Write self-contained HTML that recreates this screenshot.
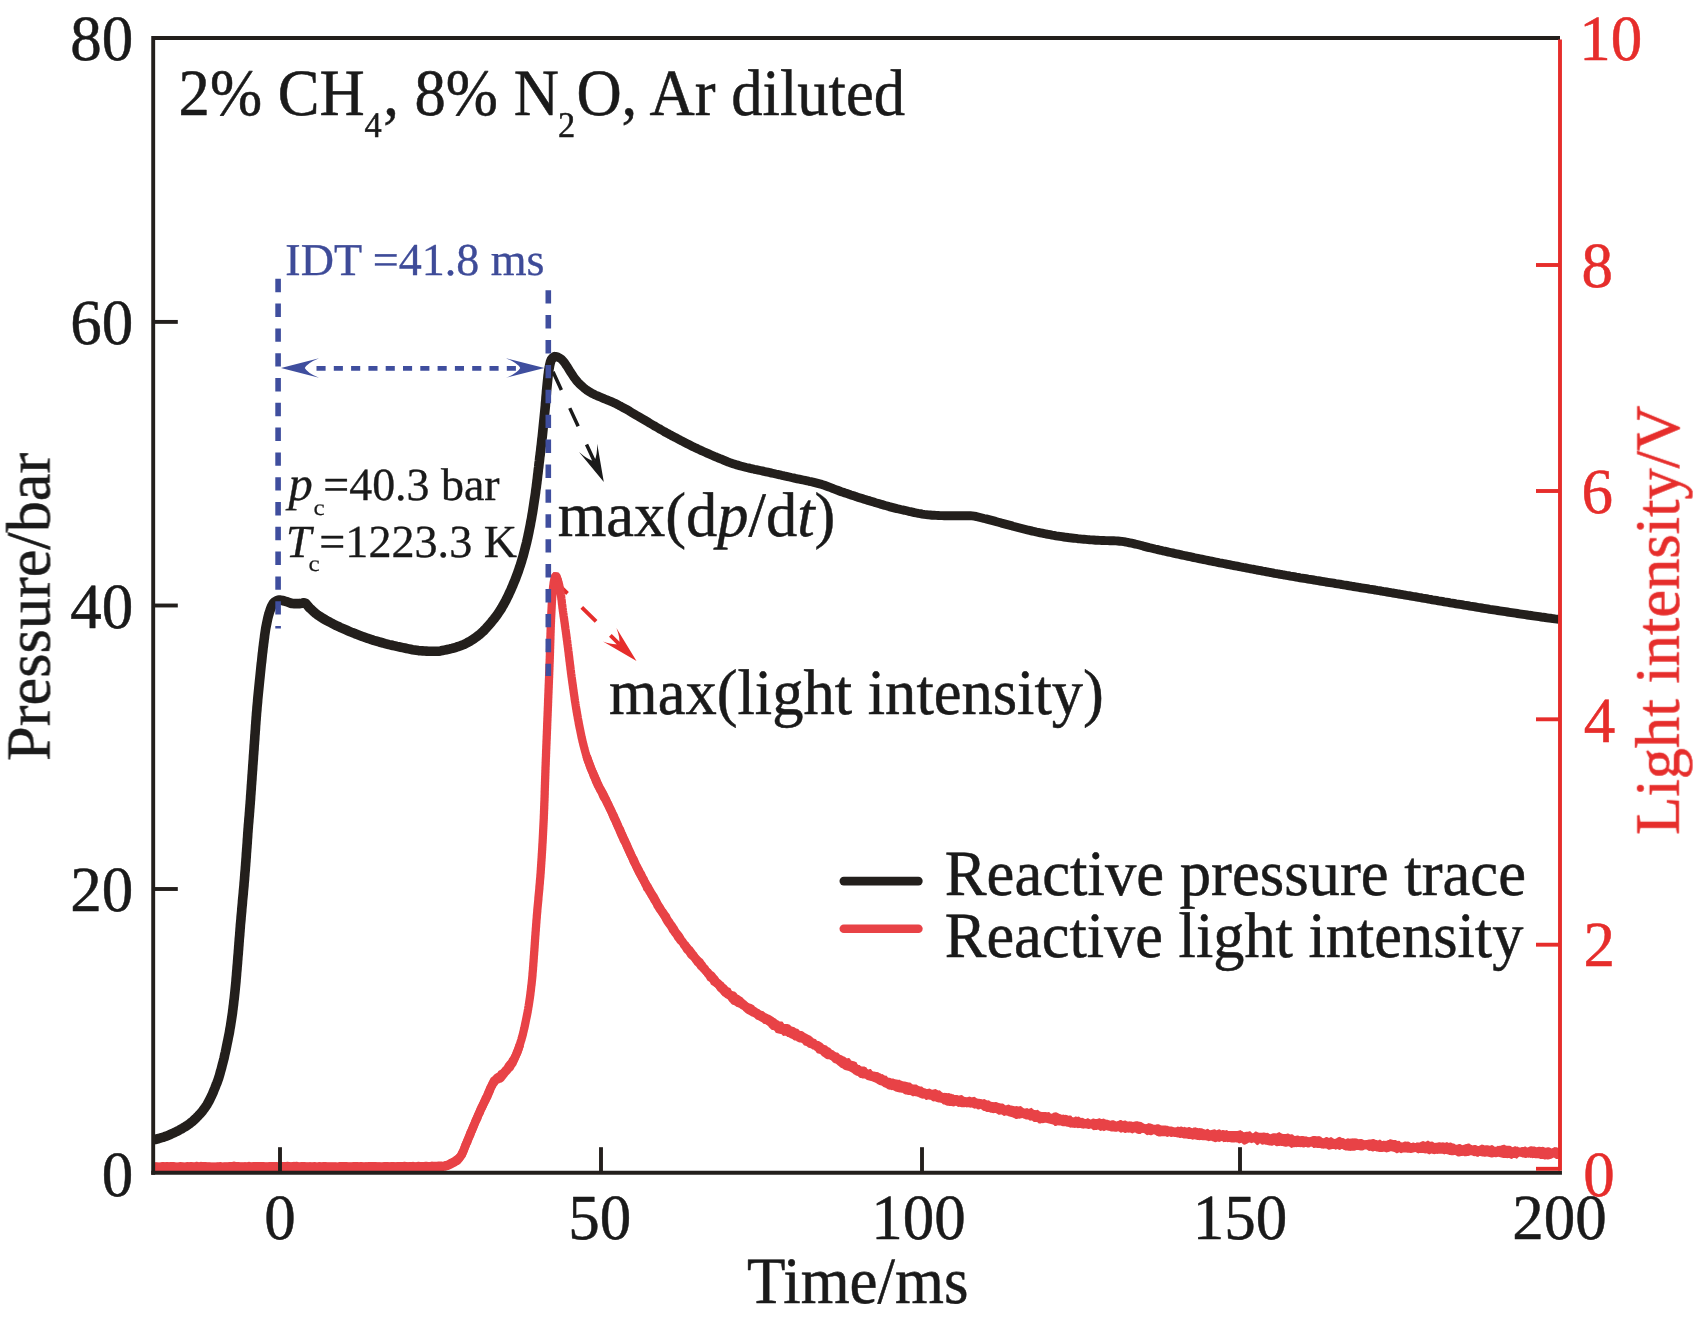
<!DOCTYPE html>
<html lang="en"><head><meta charset="utf-8"><title>Pressure and light intensity traces</title><style>html,body{margin:0;padding:0;background:#fff;}body{width:1708px;height:1321px;overflow:hidden;font-family:"Liberation Serif",serif;}svg{display:block;}text{text-rendering:geometricPrecision;}</style></head><body>
<svg width="1708" height="1321" viewBox="0 0 1708 1321" font-family="'Liberation Serif', serif">
<rect width="1708" height="1321" fill="#ffffff"/>
<line x1="553.0" y1="371.8" x2="594.2" y2="461.0" stroke="#1a1a1a" stroke-width="3.5" stroke-dasharray="20 20"/><path d="M603.8 481.9 L579.0 452.0 Q588.3 460.2 594.2 461.0 Q597.3 456.0 597.2 443.7 Z" fill="#1a1a1a"/>
<line x1="553.2" y1="579.5" x2="619.0" y2="643.9" stroke="#e62d2b" stroke-width="3.9" stroke-dasharray="20 20"/><path d="M636.5 661.0 L603.0 641.6 Q613.8 645.5 619.0 643.9 Q620.6 638.7 616.4 627.9 Z" fill="#e62d2b"/>
<path d="M155.0 1166.8L156.0 1166.8L157.0 1166.8L158.0 1166.8L159.0 1166.8L160.0 1166.8L161.0 1166.8L162.0 1166.8L163.0 1166.8L164.0 1166.8L165.0 1166.8L166.0 1166.8L167.0 1166.8L168.0 1166.8L169.0 1166.8L170.0 1166.8L171.0 1166.8L172.0 1166.8L173.0 1166.8L174.0 1166.8L175.0 1166.8L176.0 1166.8L177.0 1166.8L178.0 1166.8L179.0 1166.8L180.0 1166.8L181.0 1166.8L182.0 1166.8L183.0 1166.8L184.0 1166.8L185.0 1166.8L186.0 1166.8L187.0 1166.8L188.0 1166.8L189.0 1166.8L190.0 1166.8L191.0 1166.8L192.0 1166.8L193.0 1166.8L194.0 1166.8L195.0 1166.8L196.0 1166.8L197.0 1166.8L198.0 1166.8L199.0 1166.8L200.0 1166.8L201.0 1166.8L202.0 1166.8L203.0 1166.8L204.0 1166.8L205.0 1166.8L206.0 1166.8L207.0 1166.8L208.0 1166.8L209.0 1166.8L210.0 1166.8L211.0 1166.8L212.0 1166.8L213.0 1166.8L214.0 1166.8L215.0 1166.8L216.0 1166.8L217.0 1166.8L218.0 1166.8L219.0 1166.8L220.0 1166.8L221.0 1166.8L222.0 1166.8L223.0 1166.8L224.0 1166.8L225.0 1166.8L226.0 1166.8L227.0 1166.8L228.0 1166.8L229.0 1166.8L230.0 1166.8L231.0 1166.8L232.0 1166.8L233.0 1166.8L234.0 1166.8L235.0 1166.8L236.0 1166.8L237.0 1166.8L238.0 1166.8L239.0 1166.8L240.0 1166.8L241.0 1166.8L242.0 1166.8L243.0 1166.8L244.0 1166.8L245.0 1166.8L246.0 1166.8L247.0 1166.8L248.0 1166.8L249.0 1166.8L250.0 1166.8L251.0 1166.8L252.0 1166.8L253.0 1166.8L254.0 1166.8L255.0 1166.8L256.0 1166.8L257.0 1166.8L258.0 1166.8L259.0 1166.8L260.0 1166.8L261.0 1166.8L262.0 1166.8L263.0 1166.8L264.0 1166.8L265.0 1166.8L266.0 1166.8L267.0 1166.8L268.0 1166.8L269.0 1166.8L270.0 1166.8L271.0 1166.8L272.0 1166.8L273.0 1166.8L274.0 1166.8L275.0 1166.8L276.0 1166.8L277.0 1166.8L278.0 1166.8L279.0 1166.8L280.0 1166.8L281.0 1166.8L282.0 1166.8L283.0 1166.8L284.0 1166.8L285.0 1166.8L286.0 1166.8L287.0 1166.8L288.0 1166.8L289.0 1166.8L290.0 1166.8L291.0 1166.8L292.0 1166.8L293.0 1166.8L294.0 1166.8L295.0 1166.8L296.0 1166.8L297.0 1166.8L298.0 1166.8L299.0 1166.8L300.0 1166.8L301.0 1166.8L302.0 1166.8L303.0 1166.8L304.0 1166.8L305.0 1166.8L306.0 1166.8L307.0 1166.8L308.0 1166.8L309.0 1166.8L310.0 1166.8L311.0 1166.8L312.0 1166.8L313.0 1166.8L314.0 1166.8L315.0 1166.8L316.0 1166.8L317.0 1166.8L318.0 1166.8L319.0 1166.8L320.0 1166.8L321.0 1166.8L322.0 1166.8L323.0 1166.8L324.0 1166.8L325.0 1166.8L326.0 1166.8L327.0 1166.8L328.0 1166.8L329.0 1166.8L330.0 1166.8L331.0 1166.8L332.0 1166.8L333.0 1166.8L334.0 1166.8L335.0 1166.8L336.0 1166.8L337.0 1166.8L338.0 1166.8L339.0 1166.8L340.0 1166.8L341.0 1166.8L342.0 1166.8L343.0 1166.8L344.0 1166.8L345.0 1166.8L346.0 1166.8L347.0 1166.8L348.0 1166.8L349.0 1166.8L350.0 1166.8L351.0 1166.8L352.0 1166.8L353.0 1166.8L354.0 1166.8L355.0 1166.8L356.0 1166.8L357.0 1166.8L358.0 1166.8L359.1 1166.8L360.1 1166.8L361.1 1166.8L362.1 1166.8L363.1 1166.8L364.1 1166.8L365.1 1166.8L366.1 1166.8L367.1 1166.8L368.1 1166.8L369.1 1166.8L370.1 1166.8L371.1 1166.8L372.1 1166.8L373.1 1166.8L374.1 1166.7L375.1 1166.7L376.1 1166.7L377.1 1166.7L378.1 1166.7L379.1 1166.7L380.1 1166.7L381.1 1166.7L382.1 1166.7L383.1 1166.7L384.1 1166.7L385.1 1166.7L386.1 1166.7L387.1 1166.7L388.1 1166.7L389.1 1166.7L390.1 1166.7L391.1 1166.7L392.1 1166.7L393.1 1166.7L394.1 1166.7L395.1 1166.7L396.1 1166.7L397.1 1166.7L398.1 1166.7L399.1 1166.7L400.1 1166.7L401.1 1166.7L402.1 1166.7L403.1 1166.7L404.1 1166.7L405.1 1166.7L406.1 1166.7L407.1 1166.7L408.1 1166.7L409.1 1166.7L410.1 1166.7L411.1 1166.7L412.1 1166.7L413.1 1166.7L414.1 1166.7L415.1 1166.7L416.1 1166.6L417.1 1166.6L418.1 1166.6L419.1 1166.6L420.1 1166.6L421.1 1166.6L422.1 1166.6L423.1 1166.6L424.1 1166.6L425.1 1166.6L426.1 1166.6L427.1 1166.6L428.1 1166.6L429.1 1166.6L430.1 1166.6L431.1 1166.6L432.1 1166.6L433.1 1166.6L434.1 1166.6L435.1 1166.5L436.1 1166.5L437.1 1166.5L438.1 1166.5L439.1 1166.4L440.1 1166.4L441.1 1166.3L442.1 1166.3L443.1 1166.2L444.0 1166.2L445.0 1166.0L446.0 1165.8L447.0 1165.5L447.9 1165.1L448.9 1164.7L449.8 1164.3L450.7 1163.8L451.6 1163.4L452.5 1162.9L453.3 1162.4L454.2 1161.9L455.0 1161.4L455.9 1160.8L456.7 1160.1L457.5 1159.5L458.3 1158.8L459.0 1158.0L459.7 1157.3L460.3 1156.6L460.8 1155.8L461.3 1155.0L461.8 1154.2L462.3 1153.3L462.7 1152.5L463.1 1151.5L463.5 1150.6L463.9 1149.6L464.3 1148.7L464.6 1147.7L465.0 1146.8L465.4 1145.8L465.7 1144.8L466.1 1143.9L466.5 1143.0L466.9 1142.1L467.3 1141.1L467.7 1140.2L468.1 1139.3L468.5 1138.4L468.8 1137.5L469.2 1136.5L469.6 1135.6L470.0 1134.7L470.4 1133.8L470.7 1132.8L471.1 1131.9L471.5 1131.0L471.9 1130.1L472.3 1129.1L472.7 1128.2L473.1 1127.3L473.4 1126.4L473.8 1125.4L474.2 1124.5L474.6 1123.6L475.0 1122.7L475.4 1121.8L475.8 1120.8L476.2 1119.9L476.6 1119.0L477.0 1118.1L477.4 1117.2L477.8 1116.2L478.2 1115.3L478.6 1114.4L479.0 1113.5L479.4 1112.6L479.8 1111.7L480.2 1110.8L480.6 1109.9L481.1 1109.0L481.5 1108.1L481.9 1107.1L482.3 1106.2L482.8 1105.3L483.2 1104.4L483.6 1103.5L484.0 1102.6L484.5 1101.7L484.9 1100.8L485.3 1099.9L485.8 1099.0L486.2 1098.1L486.6 1097.2L487.1 1096.3L487.5 1095.4L487.9 1094.5L488.3 1093.5L488.7 1092.6L489.1 1091.6L489.5 1090.7L489.9 1089.7L490.3 1088.8L490.7 1087.8L491.1 1086.9L491.6 1086.0L492.0 1085.1L492.5 1084.2L493.0 1083.4L493.5 1082.6L494.1 1081.8L494.6 1081.1L495.3 1080.4L496.0 1079.7L496.8 1079.1L497.7 1078.6L498.5 1078.0L499.3 1077.4L500.1 1076.7L500.9 1076.1L501.6 1075.4L502.3 1074.7L502.9 1073.9L503.6 1073.2L504.3 1072.4L504.9 1071.7L505.6 1070.9L506.2 1070.1L506.9 1069.3L507.5 1068.6L508.1 1067.8L508.7 1067.0L509.3 1066.2L510.0 1065.4L510.6 1064.6L511.2 1063.8L511.8 1063.0L512.3 1062.1L512.9 1061.3L513.4 1060.5L513.9 1059.6L514.3 1058.7L514.8 1057.9L515.2 1057.0L515.6 1056.1L516.0 1055.2L516.4 1054.2L516.8 1053.3L517.2 1052.4L517.5 1051.4L517.9 1050.5L518.2 1049.5L518.6 1048.6L518.9 1047.6L519.2 1046.7L519.5 1045.7L519.8 1044.8L520.1 1043.8L520.4 1042.8L520.7 1041.9L521.0 1040.9L521.3 1040.0L521.6 1039.0L521.8 1038.0L522.1 1037.1L522.4 1036.1L522.6 1035.2L522.9 1034.2L523.1 1033.2L523.3 1032.2L523.6 1031.3L523.8 1030.3L524.0 1029.3L524.3 1028.3L524.5 1027.4L524.7 1026.4L524.9 1025.4L525.1 1024.4L525.3 1023.4L525.5 1022.5L525.7 1021.5L525.9 1020.5L526.1 1019.5L526.3 1018.5L526.5 1017.6L526.7 1016.6L526.9 1015.6L527.1 1014.6L527.3 1013.6L527.5 1012.7L527.7 1011.7L527.8 1010.7L528.0 1009.7L528.2 1008.7L528.3 1007.7L528.5 1006.7L528.7 1005.7L528.8 1004.8L529.0 1003.8L529.1 1002.8L529.3 1001.8L529.4 1000.8L529.6 999.8L529.7 998.8L529.9 997.8L530.0 996.8L530.1 995.9L530.3 994.9L530.4 993.9L530.5 992.9L530.6 991.9L530.8 990.9L530.9 989.9L531.0 988.9L531.1 987.9L531.2 986.9L531.3 985.9L531.5 984.9L531.6 983.9L531.7 982.9L531.8 981.9L531.9 981.0L532.0 980.0L532.1 979.0L532.2 978.0L532.3 977.0L532.4 976.0L532.5 975.0L532.5 974.0L532.6 973.0L532.7 972.0L532.8 971.0L532.9 970.0L533.0 969.0L533.0 968.0L533.1 967.0L533.2 966.0L533.3 965.0L533.3 964.0L533.4 963.0L533.5 962.0L533.6 961.0L533.6 960.0L533.7 959.0L533.8 958.0L533.8 957.0L533.9 956.0L534.0 955.0L534.1 954.0L534.1 953.0L534.2 952.0L534.3 951.0L534.4 950.0L534.4 949.0L534.5 948.0L534.6 947.1L534.6 946.1L534.7 945.1L534.8 944.1L534.8 943.1L534.9 942.1L535.0 941.1L535.0 940.1L535.1 939.1L535.2 938.1L535.2 937.1L535.3 936.1L535.4 935.1L535.5 934.1L535.5 933.1L535.6 932.1L535.7 931.1L535.8 930.1L535.8 929.1L535.9 928.1L536.0 927.1L536.1 926.1L536.1 925.1L536.2 924.1L536.3 923.1L536.4 922.1L536.4 921.1L536.5 920.1L536.6 919.1L536.7 918.1L536.8 917.1L536.8 916.1L536.9 915.1L537.0 914.1L537.1 913.1L537.2 912.1L537.3 911.1L537.3 910.1L537.4 909.2L537.5 908.2L537.6 907.2L537.7 906.2L537.8 905.2L537.9 904.2L538.0 903.2L538.1 902.2L538.2 901.2L538.3 900.2L538.4 899.2L538.4 898.2L538.5 897.2L538.6 896.2L538.7 895.2L538.8 894.2L538.9 893.2L539.0 892.2L539.1 891.2L539.2 890.2L539.3 889.2L539.4 888.2L539.4 887.2L539.5 886.2L539.6 885.2L539.7 884.2L539.8 883.3L539.9 882.3L539.9 881.3L540.0 880.3L540.1 879.3L540.2 878.3L540.3 877.3L540.4 876.3L540.4 875.3L540.5 874.3L540.6 873.3L540.7 872.3L540.7 871.3L540.8 870.3L540.9 869.3L540.9 868.3L541.0 867.3L541.1 866.3L541.1 865.3L541.2 864.3L541.3 863.3L541.3 862.3L541.4 861.3L541.5 860.3L541.5 859.3L541.6 858.3L541.7 857.3L541.7 856.3L541.8 855.3L541.8 854.3L541.9 853.3L542.0 852.3L542.0 851.3L542.1 850.3L542.2 849.3L542.2 848.3L542.3 847.3L542.3 846.3L542.4 845.3L542.4 844.3L542.5 843.3L542.6 842.3L542.6 841.3L542.7 840.3L542.7 839.3L542.8 838.3L542.8 837.3L542.9 836.3L542.9 835.3L543.0 834.3L543.0 833.3L543.1 832.3L543.1 831.3L543.2 830.4L543.2 829.4L543.3 828.4L543.3 827.4L543.4 826.4L543.4 825.4L543.5 824.4L543.5 823.4L543.6 822.4L543.6 821.4L543.7 820.4L543.7 819.4L543.8 818.4L543.8 817.4L543.8 816.4L543.9 815.4L543.9 814.4L544.0 813.4L544.0 812.4L544.0 811.4L544.1 810.4L544.1 809.4L544.2 808.4L544.2 807.4L544.2 806.4L544.3 805.4L544.3 804.4L544.3 803.4L544.4 802.4L544.4 801.4L544.5 800.4L544.5 799.4L544.5 798.4L544.6 797.4L544.6 796.4L544.6 795.4L544.7 794.4L544.7 793.4L544.7 792.4L544.7 791.4L544.8 790.4L544.8 789.4L544.8 788.4L544.9 787.4L544.9 786.4L544.9 785.4L545.0 784.4L545.0 783.4L545.0 782.4L545.1 781.4L545.1 780.4L545.1 779.4L545.2 778.4L545.2 777.4L545.2 776.4L545.3 775.4L545.3 774.4L545.3 773.4L545.4 772.4L545.4 771.4L545.4 770.4L545.5 769.4L545.5 768.4L545.5 767.4L545.6 766.4L545.6 765.4L545.7 764.4L545.7 763.4L545.7 762.4L545.8 761.4L545.8 760.4L545.8 759.4L545.9 758.4L545.9 757.4L546.0 756.4L546.0 755.4L546.0 754.4L546.1 753.4L546.1 752.4L546.1 751.4L546.2 750.4L546.2 749.4L546.3 748.4L546.3 747.4L546.3 746.4L546.4 745.4L546.4 744.4L546.5 743.4L546.5 742.4L546.5 741.4L546.6 740.4L546.6 739.4L546.7 738.4L546.7 737.4L546.7 736.4L546.8 735.4L546.8 734.4L546.9 733.4L546.9 732.4L546.9 731.4L547.0 730.4L547.0 729.4L547.1 728.4L547.1 727.4L547.1 726.4L547.2 725.4L547.2 724.4L547.2 723.4L547.3 722.4L547.3 721.4L547.4 720.4L547.4 719.4L547.4 718.4L547.5 717.4L547.5 716.4L547.6 715.4L547.6 714.4L547.6 713.4L547.7 712.4L547.7 711.4L547.8 710.4L547.8 709.4L547.8 708.4L547.9 707.4L547.9 706.4L548.0 705.4L548.0 704.4L548.0 703.4L548.1 702.4L548.1 701.4L548.1 700.4L548.2 699.4L548.2 698.4L548.3 697.4L548.3 696.4L548.3 695.4L548.4 694.4L548.4 693.4L548.5 692.4L548.5 691.4L548.5 690.4L548.6 689.4L548.6 688.4L548.7 687.4L548.7 686.4L548.7 685.4L548.8 684.4L548.8 683.4L548.9 682.4L548.9 681.4L548.9 680.4L549.0 679.4L549.0 678.4L549.1 677.4L549.1 676.4L549.1 675.4L549.2 674.4L549.2 673.4L549.2 672.4L549.3 671.4L549.3 670.4L549.4 669.4L549.4 668.4L549.4 667.4L549.5 666.4L549.5 665.4L549.5 664.4L549.6 663.4L549.6 662.4L549.7 661.4L549.7 660.4L549.7 659.4L549.8 658.4L549.8 657.4L549.8 656.4L549.9 655.4L549.9 654.4L549.9 653.4L550.0 652.4L550.0 651.4L550.0 650.4L550.0 649.4L550.1 648.4L550.1 647.4L550.1 646.4L550.2 645.4L550.2 644.4L550.2 643.4L550.3 642.4L550.3 641.4L550.3 640.4L550.4 639.4L550.4 638.4L550.4 637.4L550.4 636.4L550.5 635.4L550.5 634.4L550.5 633.4L550.6 632.4L550.6 631.4L550.6 630.4L550.7 629.4L550.7 628.4L550.7 627.4L550.8 626.4L550.8 625.4L550.8 624.4L550.9 623.4L550.9 622.4L551.0 621.4L551.0 620.4L551.0 619.4L551.1 618.4L551.1 617.4L551.2 616.4L551.2 615.5L551.3 614.5L551.3 613.5L551.4 612.5L551.4 611.5L551.5 610.5L551.5 609.5L551.6 608.5L551.6 607.5L551.7 606.5L551.7 605.5L551.8 604.4L551.8 603.4L551.9 602.4L551.9 601.4L552.0 600.4L552.1 599.4L552.1 598.4L552.2 597.4L552.3 596.4L552.3 595.4L552.4 594.4L552.5 593.4L552.6 592.4L552.7 591.5L552.8 590.5L552.9 589.5L553.0 588.5L553.1 587.5L553.2 586.5L553.3 585.5L553.5 584.4L553.6 583.2L553.8 581.9L554.1 580.6L554.3 579.4L554.6 578.3L554.9 577.4L555.2 576.8L555.5 576.4L555.8 576.5L556.2 577.0L556.7 577.7L557.1 578.8L557.6 579.9L558.1 581.1L558.4 582.3L558.7 583.3L559.0 584.3L559.2 585.2L559.4 586.2L559.6 587.1L559.8 588.1L560.0 589.1L560.2 590.1L560.3 591.0L560.5 592.0L560.6 593.0L560.8 594.0L560.9 595.0L561.1 596.0L561.2 597.0L561.3 598.0L561.4 599.0L561.6 600.0L561.7 601.0L561.8 602.0L561.9 603.0L562.0 604.0L562.2 605.0L562.3 606.0L562.4 607.0L562.5 608.0L562.7 609.0L562.8 610.0L562.9 611.0L563.1 612.0L563.2 613.0L563.4 614.0L563.5 615.0L563.6 616.0L563.8 617.0L563.9 617.9L564.1 618.9L564.2 619.9L564.3 620.9L564.5 621.9L564.6 622.9L564.8 623.9L564.9 624.9L565.0 625.9L565.2 626.9L565.3 627.9L565.4 628.8L565.6 629.8L565.7 630.8L565.9 631.8L566.0 632.8L566.1 633.8L566.3 634.8L566.4 635.8L566.5 636.8L566.7 637.8L566.8 638.8L566.9 639.7L567.1 640.7L567.2 641.7L567.3 642.7L567.4 643.7L567.6 644.7L567.7 645.7L567.8 646.7L568.0 647.7L568.1 648.7L568.2 649.7L568.3 650.7L568.5 651.7L568.6 652.6L568.7 653.6L568.8 654.6L568.9 655.6L569.1 656.6L569.2 657.6L569.3 658.6L569.4 659.6L569.5 660.6L569.7 661.6L569.8 662.6L569.9 663.6L570.0 664.6L570.2 665.6L570.3 666.5L570.4 667.5L570.5 668.5L570.6 669.5L570.8 670.5L570.9 671.5L571.0 672.5L571.1 673.5L571.3 674.5L571.4 675.5L571.5 676.5L571.7 677.5L571.8 678.4L571.9 679.4L572.1 680.4L572.2 681.4L572.3 682.4L572.5 683.4L572.6 684.4L572.8 685.4L572.9 686.4L573.0 687.4L573.2 688.4L573.3 689.4L573.5 690.3L573.6 691.3L573.7 692.3L573.9 693.3L574.0 694.3L574.2 695.3L574.3 696.3L574.5 697.3L574.6 698.3L574.7 699.3L574.9 700.2L575.0 701.2L575.2 702.2L575.4 703.2L575.5 704.2L575.7 705.2L575.8 706.2L576.0 707.2L576.1 708.1L576.3 709.1L576.5 710.1L576.6 711.1L576.8 712.1L577.0 713.1L577.1 714.1L577.3 715.0L577.5 716.0L577.7 717.0L577.8 718.0L578.0 719.0L578.2 720.0L578.4 721.0L578.6 721.9L578.7 722.9L578.9 723.9L579.1 724.9L579.3 725.9L579.5 726.9L579.7 727.9L579.9 728.8L580.1 729.8L580.3 730.8L580.5 731.8L580.7 732.8L580.9 733.8L581.1 734.7L581.3 735.7L581.5 736.7L581.7 737.7L582.0 738.7L582.2 739.6L582.4 740.6L582.6 741.6L582.9 742.5L583.1 743.5L583.3 744.5L583.6 745.5L583.8 746.4L584.1 747.4L584.3 748.3L584.6 749.3L584.8 750.3L585.1 751.2L585.4 752.2L585.7 753.1L585.9 754.1L586.2 755.0L586.5 756.0L586.8 756.9L587.2 757.9L587.5 758.8L587.8 759.8L588.1 760.7L588.5 761.7L588.8 762.6L589.2 763.5L589.5 764.5L589.9 765.4L590.2 766.4L590.6 767.3L591.0 768.2L591.3 769.2L591.7 770.1L592.1 771.0L592.5 772.0L592.9 772.9L593.3 773.8L593.6 774.7L594.0 775.7L594.4 776.6L594.8 777.5L595.2 778.4L595.6 779.3L596.0 780.3L596.4 781.2L596.8 782.1L597.2 783.0L597.6 783.9L598.0 784.8L598.5 785.7L598.9 786.6L599.4 787.5L599.8 788.4L600.3 789.3L600.7 790.2L601.2 791.1L601.6 792.0L602.1 792.8L602.6 793.7L603.0 794.6L603.5 795.5L604.0 796.4L604.4 797.3L604.9 798.2L605.4 799.1L605.8 799.9L606.3 800.8L606.7 801.7L607.2 802.6L607.6 803.5L608.1 804.4L608.5 805.3L608.9 806.2L609.3 807.1L609.8 808.0L610.2 808.9L610.6 809.8L611.0 810.8L611.5 811.7L611.9 812.6L612.3 813.5L612.7 814.4L613.1 815.3L613.5 816.2L613.9 817.1L614.3 818.0L614.8 819.0L615.2 819.9L615.6 820.8L616.0 821.7L616.4 822.6L616.8 823.5L617.2 824.4L617.6 825.3L618.0 826.3L618.4 827.2L618.9 828.1L619.3 829.0L619.7 829.9L620.1 830.8L620.5 831.7L620.9 832.6L621.3 833.5L621.8 834.5L622.2 835.4L622.6 836.3L623.0 837.2L623.4 838.1L623.8 839.0L624.2 839.9L624.6 840.8L625.0 841.7L625.5 842.7L625.9 843.6L626.3 844.5L626.7 845.4L627.1 846.3L627.5 847.2L627.9 848.1L628.3 849.0L628.7 850.0L629.2 850.9L629.6 851.8L630.0 852.7L630.4 853.6L630.8 854.5L631.2 855.4L631.7 856.3L632.1 857.2L632.5 858.1L632.9 859.0L633.3 860.0L633.8 860.9L634.2 861.8L634.6 862.7L635.1 863.6L635.5 864.5L635.9 865.4L636.4 866.3L636.8 867.2L637.3 868.1L637.7 868.9L638.2 869.8L638.6 870.7L639.1 871.6L639.5 872.5L640.0 873.4L640.5 874.3L640.9 875.2L641.4 876.1L641.9 876.9L642.3 877.8L642.8 878.7L643.3 879.6L643.8 880.5L644.2 881.3L644.7 882.2L645.2 883.1L645.7 884.0L646.2 884.8L646.7 885.7L647.1 886.6L647.6 887.5L648.1 888.3L648.6 889.2L649.1 890.1L649.6 890.9L650.1 891.8L650.6 892.7L651.1 893.5L651.6 894.4L652.1 895.3L652.6 896.1L653.1 897.0L653.6 897.9L654.2 898.7L654.7 899.6L655.2 900.4L655.7 901.3L656.2 902.2L656.7 903.0L657.2 903.9L657.7 904.7L658.3 905.6L658.8 906.4L659.3 907.3L659.8 908.1L660.3 909.0L660.9 909.9L661.4 910.7L661.9 911.6L662.4 912.4L663.0 913.2L663.5 914.1L664.0 914.9L664.6 915.8L665.1 916.6L665.7 917.5L666.2 918.3L666.7 919.2L667.3 920.0L667.8 920.8L668.4 921.7L668.9 922.5L669.5 923.4L670.0 924.2L670.6 925.0L671.1 925.9L671.6 926.7L672.2 927.5L672.8 928.4L673.3 929.2L673.9 930.0L674.4 930.9L675.0 931.7L675.5 932.5L676.1 933.3L676.7 934.2L677.3 935.0L677.8 935.8L678.4 936.6L679.0 937.4L679.6 938.2L680.2 939.1L680.7 939.9L681.3 940.7L681.9 941.5L682.5 942.3L683.1 943.1L683.7 943.9L684.4 944.7L685.0 945.5L685.6 946.2L686.2 947.0L686.8 947.8L687.4 948.6L688.0 949.4L688.7 950.2L689.3 951.0L689.9 951.7L690.5 952.5L691.2 953.3L691.8 954.1L692.4 954.8L693.1 955.6L693.7 956.4L694.4 957.2L695.0 957.9L695.6 958.7L696.3 959.5L696.9 960.2L697.6 961.0L698.2 961.8L698.8 962.5L699.5 963.3L700.1 964.1L700.8 964.8L701.4 965.6L702.1 966.4L702.7 967.1L703.3 967.9L704.0 968.7L704.6 969.4L705.3 970.2L706.0 970.9L706.6 971.7L707.3 972.4L707.9 973.2L708.6 973.9L709.3 974.7L709.9 975.4L710.6 976.2L711.2 976.9L711.9 977.7L712.6 978.4L713.3 979.2L713.9 979.9L714.6 980.6L715.3 981.4L716.0 982.1L716.7 982.8L717.4 983.5L718.1 984.2L718.8 984.9L719.5 985.6L720.3 986.3L721.0 987.0L721.7 987.7L722.5 988.3L723.2 989.0L723.9 989.7L724.7 990.4L725.4 991.0L726.2 991.7L726.9 992.3L727.7 993.0L728.5 993.6L729.2 994.3L730.0 994.9L730.8 995.5L731.6 996.2L732.3 996.8L733.1 997.4L733.9 998.0L734.7 998.6L735.5 999.3L736.3 999.9L737.1 1000.4L737.9 1001.0L738.7 1001.6L739.5 1002.2L740.4 1002.8L741.2 1003.3L742.0 1003.9L742.8 1004.5L743.7 1005.0L744.5 1005.6L745.3 1006.1L746.1 1006.7L747.0 1007.2L747.8 1007.8L748.7 1008.3L749.5 1008.9L750.3 1009.4L751.2 1010.0L752.0 1010.5L752.9 1011.0L753.7 1011.6L754.6 1012.1L755.4 1012.7L756.3 1013.2L757.1 1013.7L757.9 1014.3L758.8 1014.8L759.6 1015.3L760.5 1015.9L761.3 1016.4L762.2 1016.9L763.0 1017.5L763.9 1018.0L764.7 1018.6L765.6 1019.1L766.4 1019.6L767.3 1020.1L768.1 1020.7L769.0 1021.2L769.8 1021.7L770.7 1022.2L771.6 1022.7L772.4 1023.2L773.3 1023.7L774.2 1024.2L775.0 1024.7L775.9 1025.2L776.8 1025.7L777.7 1026.2L778.5 1026.6L779.4 1027.1L780.3 1027.6L781.2 1028.0L782.1 1028.4L783.0 1028.9L783.9 1029.3L784.8 1029.7L785.7 1030.1L786.6 1030.5L787.6 1030.9L788.5 1031.3L789.4 1031.7L790.3 1032.1L791.3 1032.4L792.2 1032.8L793.1 1033.2L794.0 1033.6L795.0 1034.0L795.9 1034.4L796.8 1034.8L797.7 1035.2L798.6 1035.7L799.5 1036.1L800.4 1036.5L801.3 1037.0L802.2 1037.5L803.0 1037.9L803.9 1038.4L804.8 1038.9L805.7 1039.4L806.5 1039.9L807.4 1040.4L808.2 1040.9L809.1 1041.4L810.0 1041.9L810.8 1042.4L811.7 1043.0L812.5 1043.5L813.4 1044.0L814.2 1044.6L815.1 1045.1L815.9 1045.6L816.8 1046.2L817.6 1046.7L818.5 1047.2L819.3 1047.7L820.2 1048.3L821.0 1048.8L821.9 1049.3L822.7 1049.8L823.6 1050.3L824.5 1050.9L825.3 1051.4L826.2 1051.9L827.0 1052.4L827.9 1053.0L828.7 1053.5L829.6 1054.0L830.4 1054.6L831.3 1055.1L832.1 1055.6L833.0 1056.2L833.8 1056.7L834.7 1057.2L835.5 1057.7L836.4 1058.2L837.2 1058.8L838.1 1059.3L838.9 1059.8L839.8 1060.3L840.7 1060.8L841.5 1061.3L842.4 1061.8L843.3 1062.2L844.2 1062.7L845.0 1063.2L845.9 1063.7L846.8 1064.1L847.7 1064.6L848.6 1065.1L849.5 1065.5L850.4 1066.0L851.2 1066.4L852.1 1066.9L853.0 1067.3L853.9 1067.8L854.8 1068.2L855.7 1068.7L856.6 1069.1L857.5 1069.5L858.4 1070.0L859.3 1070.4L860.2 1070.8L861.2 1071.2L862.1 1071.7L863.0 1072.1L863.9 1072.5L864.8 1072.9L865.7 1073.3L866.6 1073.8L867.5 1074.2L868.4 1074.6L869.3 1075.0L870.2 1075.4L871.2 1075.8L872.1 1076.2L873.0 1076.6L873.9 1077.0L874.8 1077.4L875.7 1077.8L876.7 1078.2L877.6 1078.6L878.5 1079.0L879.4 1079.4L880.4 1079.8L881.3 1080.1L882.2 1080.5L883.2 1080.9L884.1 1081.2L885.0 1081.6L886.0 1081.9L886.9 1082.2L887.8 1082.6L888.8 1082.9L889.7 1083.2L890.7 1083.6L891.6 1083.9L892.6 1084.2L893.5 1084.5L894.5 1084.8L895.4 1085.1L896.4 1085.4L897.3 1085.7L898.3 1086.0L899.3 1086.3L900.2 1086.6L901.2 1086.9L902.1 1087.2L903.1 1087.5L904.0 1087.8L905.0 1088.1L906.0 1088.3L906.9 1088.6L907.9 1088.9L908.8 1089.2L909.8 1089.5L910.8 1089.8L911.7 1090.0L912.7 1090.3L913.6 1090.6L914.6 1090.9L915.6 1091.1L916.5 1091.4L917.5 1091.7L918.5 1091.9L919.4 1092.2L920.4 1092.5L921.4 1092.7L922.3 1093.0L923.3 1093.2L924.3 1093.5L925.2 1093.7L926.2 1094.0L927.2 1094.2L928.1 1094.5L929.1 1094.7L930.1 1094.9L931.0 1095.2L932.0 1095.4L933.0 1095.7L934.0 1095.9L934.9 1096.1L935.9 1096.4L936.9 1096.6L937.9 1096.8L938.8 1097.0L939.8 1097.3L940.8 1097.5L941.8 1097.7L942.7 1097.9L943.7 1098.1L944.7 1098.3L945.7 1098.5L946.7 1098.7L947.6 1098.9L948.6 1099.1L949.6 1099.3L950.6 1099.5L951.6 1099.6L952.6 1099.8L953.5 1100.0L954.5 1100.1L955.5 1100.3L956.5 1100.4L957.5 1100.6L958.5 1100.7L959.5 1100.9L960.5 1101.0L961.5 1101.2L962.4 1101.3L963.4 1101.5L964.4 1101.6L965.4 1101.7L966.4 1101.9L967.4 1102.0L968.4 1102.2L969.4 1102.3L970.4 1102.5L971.4 1102.6L972.3 1102.8L973.3 1103.0L974.3 1103.1L975.3 1103.3L976.3 1103.5L977.3 1103.7L978.2 1103.9L979.2 1104.0L980.2 1104.2L981.2 1104.5L982.2 1104.7L983.1 1104.9L984.1 1105.1L985.1 1105.3L986.1 1105.5L987.0 1105.8L988.0 1106.0L989.0 1106.2L990.0 1106.4L990.9 1106.7L991.9 1106.9L992.9 1107.1L993.9 1107.4L994.8 1107.6L995.8 1107.8L996.8 1108.0L997.8 1108.3L998.7 1108.5L999.7 1108.7L1000.7 1108.9L1001.7 1109.1L1002.6 1109.3L1003.6 1109.5L1004.6 1109.7L1005.6 1109.9L1006.6 1110.1L1007.5 1110.3L1008.5 1110.5L1009.5 1110.7L1010.5 1110.9L1011.5 1111.1L1012.4 1111.3L1013.4 1111.5L1014.4 1111.7L1015.4 1111.9L1016.4 1112.1L1017.4 1112.3L1018.3 1112.5L1019.3 1112.7L1020.3 1112.9L1021.3 1113.0L1022.3 1113.2L1023.2 1113.4L1024.2 1113.6L1025.2 1113.8L1026.2 1114.0L1027.2 1114.2L1028.2 1114.4L1029.1 1114.6L1030.1 1114.7L1031.1 1114.9L1032.1 1115.1L1033.1 1115.3L1034.1 1115.5L1035.0 1115.7L1036.0 1115.9L1037.0 1116.0L1038.0 1116.2L1039.0 1116.4L1040.0 1116.6L1040.9 1116.8L1041.9 1117.0L1042.9 1117.1L1043.9 1117.3L1044.9 1117.5L1045.9 1117.7L1046.8 1117.8L1047.8 1118.0L1048.8 1118.2L1049.8 1118.4L1050.8 1118.5L1051.8 1118.7L1052.8 1118.8L1053.7 1119.0L1054.7 1119.2L1055.7 1119.3L1056.7 1119.5L1057.7 1119.6L1058.7 1119.8L1059.7 1120.0L1060.7 1120.1L1061.7 1120.3L1062.6 1120.4L1063.6 1120.6L1064.6 1120.7L1065.6 1120.9L1066.6 1121.0L1067.6 1121.2L1068.6 1121.3L1069.6 1121.4L1070.6 1121.6L1071.6 1121.7L1072.5 1121.8L1073.5 1122.0L1074.5 1122.1L1075.5 1122.2L1076.5 1122.4L1077.5 1122.5L1078.5 1122.6L1079.5 1122.7L1080.5 1122.8L1081.5 1122.9L1082.5 1123.0L1083.5 1123.1L1084.5 1123.3L1085.5 1123.4L1086.4 1123.5L1087.4 1123.6L1088.4 1123.7L1089.4 1123.8L1090.4 1123.9L1091.4 1124.0L1092.4 1124.1L1093.4 1124.1L1094.4 1124.2L1095.4 1124.3L1096.4 1124.4L1097.4 1124.5L1098.4 1124.6L1099.4 1124.7L1100.4 1124.8L1101.4 1124.9L1102.4 1125.0L1103.4 1125.1L1104.4 1125.1L1105.4 1125.2L1106.4 1125.3L1107.4 1125.4L1108.4 1125.5L1109.4 1125.6L1110.4 1125.6L1111.4 1125.7L1112.4 1125.8L1113.3 1125.9L1114.3 1125.9L1115.3 1126.0L1116.3 1126.1L1117.3 1126.2L1118.3 1126.2L1119.3 1126.3L1120.3 1126.4L1121.3 1126.5L1122.3 1126.6L1123.3 1126.6L1124.3 1126.7L1125.3 1126.8L1126.3 1126.9L1127.3 1127.0L1128.3 1127.0L1129.3 1127.1L1130.3 1127.2L1131.3 1127.3L1132.3 1127.4L1133.3 1127.5L1134.3 1127.6L1135.3 1127.7L1136.3 1127.8L1137.3 1127.9L1138.3 1128.0L1139.3 1128.1L1140.3 1128.2L1141.2 1128.3L1142.2 1128.4L1143.2 1128.5L1144.2 1128.6L1145.2 1128.7L1146.2 1128.9L1147.2 1129.0L1148.2 1129.1L1149.2 1129.2L1150.2 1129.3L1151.2 1129.4L1152.2 1129.5L1153.2 1129.6L1154.2 1129.7L1155.2 1129.9L1156.2 1130.0L1157.2 1130.1L1158.1 1130.2L1159.1 1130.3L1160.1 1130.4L1161.1 1130.5L1162.1 1130.6L1163.1 1130.7L1164.1 1130.8L1165.1 1130.9L1166.1 1131.0L1167.1 1131.1L1168.1 1131.2L1169.1 1131.3L1170.1 1131.4L1171.1 1131.5L1172.1 1131.6L1173.1 1131.7L1174.1 1131.8L1175.1 1131.9L1176.1 1132.0L1177.1 1132.1L1178.0 1132.2L1179.0 1132.3L1180.0 1132.4L1181.0 1132.5L1182.0 1132.6L1183.0 1132.7L1184.0 1132.8L1185.0 1132.8L1186.0 1132.9L1187.0 1133.0L1188.0 1133.1L1189.0 1133.2L1190.0 1133.3L1191.0 1133.4L1192.0 1133.5L1193.0 1133.6L1194.0 1133.6L1195.0 1133.7L1196.0 1133.8L1197.0 1133.9L1198.0 1134.0L1199.0 1134.1L1200.0 1134.2L1201.0 1134.3L1202.0 1134.3L1203.0 1134.4L1204.0 1134.5L1205.0 1134.6L1205.9 1134.7L1206.9 1134.8L1207.9 1134.8L1208.9 1134.9L1209.9 1135.0L1210.9 1135.1L1211.9 1135.2L1212.9 1135.2L1213.9 1135.3L1214.9 1135.4L1215.9 1135.5L1216.9 1135.6L1217.9 1135.6L1218.9 1135.7L1219.9 1135.8L1220.9 1135.9L1221.9 1135.9L1222.9 1136.0L1223.9 1136.1L1224.9 1136.2L1225.9 1136.2L1226.9 1136.3L1227.9 1136.4L1228.9 1136.5L1229.9 1136.5L1230.9 1136.6L1231.9 1136.7L1232.9 1136.7L1233.9 1136.8L1234.9 1136.9L1235.9 1136.9L1236.9 1137.0L1237.9 1137.1L1238.9 1137.1L1239.9 1137.2L1240.9 1137.3L1241.9 1137.3L1242.9 1137.4L1243.9 1137.4L1244.9 1137.5L1245.9 1137.6L1246.8 1137.6L1247.8 1137.7L1248.8 1137.8L1249.8 1137.8L1250.8 1137.9L1251.8 1137.9L1252.8 1138.0L1253.8 1138.1L1254.8 1138.1L1255.8 1138.2L1256.8 1138.3L1257.8 1138.3L1258.8 1138.4L1259.8 1138.4L1260.8 1138.5L1261.8 1138.6L1262.8 1138.6L1263.8 1138.7L1264.8 1138.7L1265.8 1138.8L1266.8 1138.9L1267.8 1138.9L1268.8 1139.0L1269.8 1139.1L1270.8 1139.1L1271.8 1139.2L1272.8 1139.3L1273.8 1139.3L1274.8 1139.4L1275.8 1139.4L1276.8 1139.5L1277.8 1139.6L1278.8 1139.6L1279.8 1139.7L1280.8 1139.8L1281.8 1139.9L1282.8 1139.9L1283.8 1140.0L1284.8 1140.1L1285.8 1140.1L1286.8 1140.2L1287.8 1140.3L1288.8 1140.4L1289.8 1140.4L1290.8 1140.5L1291.8 1140.6L1292.8 1140.6L1293.8 1140.7L1294.8 1140.8L1295.8 1140.9L1296.8 1140.9L1297.7 1141.0L1298.7 1141.1L1299.7 1141.2L1300.7 1141.2L1301.7 1141.3L1302.7 1141.4L1303.7 1141.5L1304.7 1141.5L1305.7 1141.6L1306.7 1141.7L1307.7 1141.8L1308.7 1141.8L1309.7 1141.9L1310.7 1142.0L1311.7 1142.0L1312.7 1142.1L1313.7 1142.2L1314.7 1142.3L1315.7 1142.3L1316.7 1142.4L1317.7 1142.5L1318.7 1142.5L1319.7 1142.6L1320.7 1142.7L1321.7 1142.7L1322.7 1142.8L1323.7 1142.9L1324.7 1142.9L1325.7 1143.0L1326.7 1143.1L1327.7 1143.1L1328.7 1143.2L1329.7 1143.2L1330.7 1143.3L1331.7 1143.4L1332.7 1143.4L1333.7 1143.5L1334.7 1143.5L1335.7 1143.6L1336.7 1143.6L1337.7 1143.7L1338.7 1143.7L1339.7 1143.8L1340.7 1143.8L1341.7 1143.9L1342.7 1144.0L1343.7 1144.0L1344.7 1144.1L1345.7 1144.1L1346.7 1144.2L1347.7 1144.2L1348.7 1144.3L1349.7 1144.3L1350.7 1144.4L1351.7 1144.4L1352.7 1144.4L1353.7 1144.5L1354.6 1144.5L1355.6 1144.6L1356.6 1144.6L1357.6 1144.7L1358.6 1144.7L1359.6 1144.8L1360.6 1144.8L1361.6 1144.9L1362.6 1144.9L1363.6 1145.0L1364.6 1145.0L1365.6 1145.1L1366.6 1145.1L1367.6 1145.2L1368.6 1145.2L1369.6 1145.2L1370.6 1145.3L1371.6 1145.3L1372.6 1145.4L1373.6 1145.4L1374.6 1145.5L1375.6 1145.5L1376.6 1145.6L1377.6 1145.6L1378.6 1145.7L1379.6 1145.7L1380.6 1145.8L1381.6 1145.8L1382.6 1145.9L1383.6 1145.9L1384.6 1146.0L1385.6 1146.0L1386.6 1146.1L1387.6 1146.1L1388.6 1146.2L1389.6 1146.2L1390.6 1146.3L1391.6 1146.3L1392.6 1146.4L1393.6 1146.4L1394.6 1146.5L1395.6 1146.5L1396.6 1146.5L1397.6 1146.6L1398.6 1146.6L1399.6 1146.7L1400.6 1146.7L1401.6 1146.8L1402.6 1146.8L1403.6 1146.9L1404.6 1146.9L1405.6 1147.0L1406.6 1147.0L1407.6 1147.1L1408.6 1147.1L1409.6 1147.2L1410.6 1147.2L1411.6 1147.3L1412.6 1147.3L1413.6 1147.4L1414.6 1147.4L1415.6 1147.5L1416.6 1147.5L1417.6 1147.6L1418.6 1147.6L1419.6 1147.7L1420.6 1147.7L1421.6 1147.8L1422.6 1147.8L1423.6 1147.9L1424.6 1147.9L1425.6 1148.0L1426.6 1148.0L1427.6 1148.1L1428.6 1148.1L1429.6 1148.2L1430.6 1148.2L1431.6 1148.3L1432.6 1148.3L1433.6 1148.4L1434.6 1148.4L1435.6 1148.5L1436.6 1148.5L1437.6 1148.6L1438.6 1148.6L1439.6 1148.7L1440.6 1148.7L1441.6 1148.8L1442.6 1148.8L1443.6 1148.9L1444.6 1148.9L1445.6 1149.0L1446.6 1149.1L1447.6 1149.1L1448.6 1149.2L1449.6 1149.2L1450.6 1149.3L1451.6 1149.3L1452.6 1149.4L1453.6 1149.4L1454.6 1149.5L1455.6 1149.5L1456.5 1149.6L1457.5 1149.7L1458.5 1149.7L1459.5 1149.8L1460.5 1149.8L1461.5 1149.9L1462.5 1149.9L1463.5 1150.0L1464.5 1150.0L1465.5 1150.1L1466.5 1150.2L1467.5 1150.2L1468.5 1150.3L1469.5 1150.3L1470.5 1150.4L1471.5 1150.4L1472.5 1150.5L1473.5 1150.5L1474.5 1150.6L1475.5 1150.6L1476.5 1150.7L1477.5 1150.7L1478.5 1150.8L1479.5 1150.8L1480.5 1150.9L1481.5 1150.9L1482.5 1150.9L1483.5 1151.0L1484.5 1151.0L1485.5 1151.1L1486.5 1151.1L1487.5 1151.2L1488.5 1151.2L1489.5 1151.2L1490.5 1151.3L1491.5 1151.3L1492.5 1151.3L1493.5 1151.4L1494.5 1151.4L1495.5 1151.4L1496.5 1151.5L1497.5 1151.5L1498.5 1151.5L1499.5 1151.6L1500.5 1151.6L1501.5 1151.6L1502.5 1151.7L1503.5 1151.7L1504.5 1151.7L1505.5 1151.8L1506.5 1151.8L1507.5 1151.8L1508.5 1151.9L1509.5 1151.9L1510.5 1151.9L1511.5 1151.9L1512.5 1152.0L1513.5 1152.0L1514.5 1152.0L1515.5 1152.1L1516.5 1152.1L1517.5 1152.1L1518.5 1152.1L1519.5 1152.2L1520.5 1152.2L1521.5 1152.2L1522.5 1152.3L1523.5 1152.3L1524.5 1152.3L1525.5 1152.3L1526.5 1152.4L1527.5 1152.4L1528.5 1152.4L1529.5 1152.5L1530.5 1152.5L1531.5 1152.5L1532.5 1152.5L1533.5 1152.6L1534.5 1152.6L1535.5 1152.6L1536.5 1152.7L1537.5 1152.7L1538.5 1152.7L1539.5 1152.7L1540.5 1152.8L1541.5 1152.8L1542.5 1152.8L1543.5 1152.9L1544.5 1152.9L1545.5 1152.9L1546.5 1152.9L1547.5 1153.0L1548.5 1153.0L1549.5 1153.0L1550.5 1153.1L1551.5 1153.1L1552.5 1153.1L1553.5 1153.2L1554.5 1153.2L1555.5 1153.2L1556.5 1153.2L1557.5 1153.3L1558.5 1153.3" fill="none" stroke="#e84246" stroke-width="8.3" stroke-linejoin="round" stroke-linecap="butt"/>
<path d="M155.0 1171.6L156.0 1171.7L157.0 1171.7L158.0 1171.5L159.0 1171.4L160.0 1171.5L161.0 1171.5L162.0 1171.6L163.0 1171.4L164.0 1171.4L165.0 1171.5L166.0 1171.6L167.0 1171.5L168.0 1171.5L169.0 1171.5L170.0 1171.6L171.0 1171.6L172.0 1171.4L173.0 1171.4L174.0 1171.3L175.0 1171.2L176.0 1171.1L177.0 1171.3L178.0 1171.3L179.0 1171.2L180.0 1171.3L181.0 1171.4L182.0 1171.3L183.0 1171.3L184.0 1171.5L185.0 1171.6L186.0 1171.4L187.0 1171.4L188.0 1171.5L189.0 1171.6L190.0 1171.6L191.0 1171.7L192.0 1171.8L193.0 1171.7L194.0 1171.6L195.0 1171.7L196.0 1171.8L197.0 1171.7L198.0 1171.5L199.0 1171.3L200.0 1171.3L201.0 1171.3L202.0 1171.4L203.0 1171.5L204.0 1171.5L205.0 1171.6L206.0 1171.7L207.0 1171.6L208.0 1171.6L209.0 1171.5L210.0 1171.4L211.0 1171.4L212.0 1171.4L213.0 1171.3L214.0 1171.2L215.0 1171.4L216.0 1171.3L217.0 1171.3L218.0 1171.3L219.0 1171.3L220.0 1171.3L221.0 1171.4L222.0 1171.5L223.0 1171.5L224.0 1171.6L225.0 1171.7L226.0 1171.7L227.0 1171.7L228.0 1171.8L229.0 1172.0L230.0 1171.8L231.0 1171.6L232.0 1171.5L233.0 1171.6L234.0 1171.4L235.0 1171.4L236.0 1171.3L237.0 1171.4L238.0 1171.4L239.0 1171.4L240.0 1171.2L241.0 1171.1L242.0 1171.2L243.0 1171.5L244.0 1171.8L245.0 1171.6L246.0 1171.4L247.0 1171.3L248.0 1171.6L249.0 1171.7L250.0 1171.5L251.0 1171.4L252.0 1171.4L253.0 1171.4L254.0 1171.3L255.0 1171.3L256.0 1171.4L257.0 1171.5L258.0 1171.4L259.0 1171.4L260.0 1171.3L261.0 1171.5L262.0 1171.6L263.0 1171.5L264.0 1171.4L265.0 1171.5L266.0 1171.7L267.0 1171.6L268.0 1171.5L269.0 1171.2L270.0 1171.2L271.0 1171.5L272.0 1171.6L273.0 1171.4L274.0 1171.2L275.0 1171.3L276.0 1171.3L277.0 1171.3L278.0 1171.4L279.0 1171.6L280.0 1171.6L281.0 1171.6L282.0 1171.5L283.0 1171.5L284.0 1171.2L285.0 1171.1L286.0 1171.2L287.0 1171.3L288.0 1171.5L289.0 1171.5L290.0 1171.6L291.0 1171.6L292.0 1171.6L293.0 1171.5L294.0 1171.4L295.0 1171.2L296.0 1171.2L297.0 1171.2L298.0 1171.3L299.0 1171.3L300.0 1171.5L301.0 1171.5L302.0 1171.3L303.0 1171.3L304.0 1171.3L305.0 1171.6L306.0 1171.6L307.0 1171.5L308.0 1171.3L309.0 1171.5L310.0 1171.6L311.0 1171.8L312.0 1171.9L313.0 1171.8L314.0 1171.7L315.0 1171.6L316.0 1171.7L317.0 1171.8L318.0 1171.7L319.0 1171.7L320.0 1171.5L321.0 1171.4L322.0 1171.4L323.0 1171.5L324.0 1171.4L325.0 1171.5L326.0 1171.6L327.0 1171.7L328.0 1171.6L329.0 1171.6L330.0 1171.5L331.0 1171.4L332.0 1171.3L333.0 1171.4L334.0 1171.4L335.0 1171.4L336.0 1171.2L337.0 1171.3L338.0 1171.2L339.0 1171.3L340.0 1171.2L341.0 1171.3L342.0 1171.4L343.0 1171.4L344.0 1171.4L345.0 1171.3L346.0 1171.4L347.1 1171.5L348.1 1171.4L349.1 1171.2L350.1 1171.1L351.1 1171.3L352.1 1171.2L353.1 1171.3L354.1 1171.3L355.1 1171.4L356.1 1171.3L357.1 1171.5L358.1 1171.7L359.1 1171.6L360.1 1171.6L361.1 1171.6L362.1 1171.5L363.1 1171.5L364.1 1171.5L365.1 1171.4L366.1 1171.4L367.1 1171.4L368.1 1171.4L369.1 1171.3L370.1 1171.5L371.1 1171.6L372.1 1171.5L373.1 1171.3L374.1 1171.2L375.1 1171.2L376.1 1171.1L377.1 1171.0L378.1 1171.0L379.1 1171.0L380.1 1171.1L381.1 1171.1L382.1 1171.0L383.1 1171.0L384.1 1171.2L385.1 1171.5L386.1 1171.6L387.1 1171.6L388.1 1171.4L389.1 1171.2L390.1 1171.1L391.1 1171.2L392.1 1171.3L393.1 1171.3L394.1 1171.4L395.1 1171.4L396.1 1171.3L397.1 1171.3L398.1 1171.4L399.1 1171.4L400.1 1171.5L401.1 1171.7L402.1 1171.6L403.1 1171.5L404.1 1171.5L405.1 1171.6L406.1 1171.6L407.1 1171.5L408.1 1171.4L409.1 1171.5L410.1 1171.6L411.1 1171.4L412.1 1171.2L413.1 1171.2L414.1 1171.3L415.1 1171.2L416.1 1171.2L417.1 1171.2L418.1 1171.3L419.1 1171.2L420.1 1171.3L421.1 1171.3L422.1 1171.4L423.1 1171.4L424.1 1171.3L425.1 1171.2L426.1 1171.1L427.1 1171.0L428.1 1171.1L429.1 1171.3L430.1 1171.4L431.1 1171.4L432.1 1171.3L433.1 1171.3L434.2 1171.4L435.2 1171.4L436.2 1171.3L437.3 1171.3L438.3 1171.1L439.3 1171.0L440.3 1171.0L441.3 1171.2L442.4 1171.2L443.4 1171.0L444.6 1170.8L445.9 1170.7L447.2 1170.3L448.5 1169.9L449.6 1169.4L450.8 1169.0L451.9 1168.6L452.9 1168.0L453.7 1167.4L454.7 1167.0L455.7 1166.6L456.7 1165.9L457.7 1165.3L458.9 1164.8L459.9 1164.1L460.8 1163.2L461.5 1162.2L462.4 1161.3L463.1 1160.3L463.8 1159.3L464.5 1158.3L465.1 1157.4L465.8 1156.4L466.2 1155.3L466.7 1154.3L467.1 1153.3L467.5 1152.3L467.9 1151.2L468.2 1150.2L468.6 1149.2L469.0 1148.3L469.4 1147.4L469.8 1146.5L470.1 1145.6L470.6 1144.7L471.1 1143.8L471.4 1142.9L471.6 1141.9L472.0 1140.9L472.4 1140.0L472.8 1139.1L473.3 1138.2L473.7 1137.3L474.1 1136.4L474.4 1135.4L474.8 1134.5L475.1 1133.6L475.6 1132.7L476.0 1131.8L476.3 1130.8L476.7 1129.9L477.1 1129.0L477.5 1128.1L477.9 1127.1L478.2 1126.2L478.6 1125.3L478.9 1124.3L479.3 1123.4L479.8 1122.5L480.3 1121.7L480.6 1120.8L481.1 1119.9L481.5 1118.9L481.7 1118.0L482.0 1117.0L482.5 1116.2L483.0 1115.3L483.5 1114.4L483.9 1113.6L484.2 1112.6L484.5 1111.6L484.9 1110.7L485.4 1109.9L485.9 1109.0L486.4 1108.1L486.8 1107.2L487.1 1106.3L487.6 1105.4L488.0 1104.5L488.5 1103.6L488.9 1102.8L489.4 1101.9L489.8 1101.0L490.2 1100.1L490.7 1099.2L491.2 1098.2L491.6 1097.2L491.9 1096.2L492.4 1095.2L492.8 1094.3L493.3 1093.3L493.6 1092.4L494.0 1091.4L494.3 1090.5L494.7 1089.6L495.1 1088.8L495.6 1088.0L496.0 1087.2L496.3 1086.4L496.8 1085.7L497.4 1085.2L497.8 1084.5L498.1 1084.0L498.4 1083.6L499.1 1083.6L499.7 1083.1L500.5 1082.7L501.6 1082.4L502.7 1081.8L503.7 1080.9L504.5 1079.9L505.2 1079.0L505.9 1078.2L506.6 1077.3L507.3 1076.5L507.9 1075.6L508.6 1074.8L509.4 1074.1L510.1 1073.3L510.7 1072.4L511.4 1071.6L512.1 1070.9L512.9 1070.3L513.5 1069.4L514.0 1068.6L514.5 1067.6L515.1 1066.7L515.8 1065.8L516.4 1064.9L516.8 1063.8L517.3 1062.7L517.7 1061.7L518.2 1060.7L518.6 1059.7L519.0 1058.7L519.4 1057.8L519.9 1056.8L520.3 1055.9L520.7 1054.9L521.2 1053.9L521.6 1053.0L521.9 1052.0L522.3 1051.0L522.6 1050.0L522.9 1049.0L523.3 1048.0L523.6 1047.0L524.0 1046.1L515.7 1043.4L515.4 1044.4L515.2 1045.3L514.8 1046.2L514.5 1047.2L514.2 1048.1L513.8 1049.0L513.4 1049.9L513.0 1050.8L512.7 1051.7L512.4 1052.6L512.1 1053.4L511.6 1054.3L511.2 1055.1L510.8 1055.9L510.4 1056.8L509.9 1057.4L509.3 1058.1L508.9 1058.8L508.6 1059.7L508.1 1060.4L507.4 1061.0L506.8 1061.8L506.2 1062.5L505.6 1063.3L505.0 1064.1L504.6 1065.0L504.2 1065.9L503.5 1066.7L502.8 1067.3L502.1 1068.0L501.6 1068.8L501.0 1069.6L500.1 1070.0L499.2 1070.4L498.4 1070.9L498.0 1071.8L497.6 1072.6L496.8 1072.9L496.2 1073.2L495.5 1073.7L494.7 1074.3L493.8 1075.0L493.1 1076.1L491.9 1076.9L490.8 1077.8L490.1 1078.9L489.6 1080.0L489.1 1081.0L488.6 1082.0L488.2 1083.1L487.7 1084.0L487.2 1085.0L486.6 1086.0L486.2 1087.0L485.8 1087.9L485.4 1089.0L485.0 1089.9L484.5 1090.8L484.2 1091.8L483.8 1092.7L483.5 1093.6L483.2 1094.5L482.7 1095.3L482.1 1096.1L481.7 1097.1L481.4 1098.0L480.9 1098.9L480.5 1099.8L480.1 1100.7L479.7 1101.7L479.2 1102.5L478.8 1103.4L478.3 1104.4L477.8 1105.2L477.4 1106.2L477.0 1107.1L476.6 1108.0L476.2 1108.9L475.8 1109.9L475.5 1110.8L475.0 1111.7L474.6 1112.7L474.2 1113.6L473.8 1114.5L473.4 1115.5L473.0 1116.4L472.6 1117.3L472.1 1118.2L471.8 1119.1L471.4 1120.1L471.1 1121.0L470.7 1121.9L470.3 1122.9L469.9 1123.8L469.5 1124.7L469.1 1125.6L468.7 1126.5L468.3 1127.5L467.9 1128.4L467.5 1129.3L467.1 1130.2L466.6 1131.1L466.3 1132.1L465.9 1133.0L465.6 1134.0L465.2 1134.9L464.8 1135.8L464.5 1136.7L464.1 1137.6L463.7 1138.6L463.3 1139.5L462.9 1140.4L462.6 1141.3L462.2 1142.3L461.7 1143.2L461.3 1144.2L461.0 1145.2L460.6 1146.2L460.3 1147.2L460.0 1148.1L459.6 1149.0L459.1 1149.8L458.7 1150.6L458.3 1151.3L458.0 1152.1L457.7 1152.8L457.4 1153.4L456.9 1153.9L456.3 1154.4L455.9 1155.0L455.2 1155.6L454.5 1156.0L453.7 1156.4L453.1 1157.0L452.4 1157.5L451.6 1157.9L450.9 1158.2L450.2 1158.7L449.3 1159.0L448.5 1159.5L447.7 1159.9L447.0 1160.4L446.2 1160.7L445.5 1161.1L444.7 1161.1L444.1 1161.2L443.5 1161.6L442.8 1161.7L441.9 1161.5L440.9 1161.5L439.9 1161.5L438.9 1161.6L438.0 1161.6L437.0 1161.8L436.0 1161.7L435.0 1161.7L434.0 1161.7L433.0 1161.7L432.0 1161.6L431.0 1161.7L430.0 1162.0L429.0 1161.9L428.0 1162.0L427.0 1161.8L426.0 1161.8L425.0 1161.8L424.0 1161.9L423.0 1161.9L422.0 1161.9L421.0 1162.0L420.0 1161.9L419.0 1161.8L418.0 1161.8L417.0 1161.9L416.0 1162.3L415.0 1162.3L414.0 1162.0L413.0 1161.8L412.0 1161.9L411.0 1162.0L410.0 1162.1L409.0 1162.1L408.0 1162.2L407.0 1162.1L406.0 1161.9L405.0 1161.8L404.0 1161.8L403.0 1161.9L402.0 1162.0L401.0 1162.1L400.0 1162.1L399.0 1162.0L398.0 1161.9L397.0 1162.1L396.0 1162.2L395.0 1162.3L394.0 1162.1L393.0 1162.0L392.0 1161.9L391.0 1162.1L390.0 1162.2L389.0 1162.2L388.0 1162.1L387.0 1162.0L386.0 1161.9L385.0 1161.9L384.0 1162.1L383.0 1162.3L382.0 1162.5L381.0 1162.5L380.0 1162.3L379.0 1162.3L378.0 1162.2L377.0 1162.2L376.0 1162.1L375.0 1162.0L374.0 1161.9L373.0 1161.9L372.0 1162.0L371.0 1162.1L370.0 1162.0L369.0 1162.0L368.0 1162.0L367.0 1162.2L366.0 1162.1L365.0 1162.2L364.0 1162.3L363.0 1162.3L362.0 1162.1L361.0 1162.0L360.0 1162.1L359.0 1162.2L358.0 1162.1L357.0 1162.0L356.0 1161.9L355.0 1161.9L354.0 1162.0L353.0 1162.1L352.0 1162.2L351.0 1162.2L350.0 1162.2L349.0 1162.2L348.0 1162.2L347.0 1162.0L346.0 1162.0L345.0 1162.1L344.0 1162.1L343.0 1162.1L342.0 1162.0L341.0 1162.0L340.0 1162.0L339.0 1162.1L338.0 1162.4L337.0 1162.4L336.0 1162.2L335.0 1162.2L334.0 1162.3L333.0 1162.3L332.0 1162.3L331.0 1162.2L330.0 1162.2L329.0 1162.3L328.0 1162.3L327.0 1162.2L326.0 1162.1L325.0 1162.1L324.0 1162.1L323.0 1162.1L322.0 1162.2L321.0 1162.3L320.0 1162.1L319.0 1162.1L318.0 1162.2L317.0 1162.4L316.0 1162.2L315.0 1162.1L314.0 1162.1L313.0 1162.3L312.0 1162.2L311.0 1162.2L310.0 1162.1L309.0 1162.2L308.0 1162.3L307.0 1162.3L306.0 1162.2L305.0 1162.0L304.0 1161.9L303.0 1161.9L302.0 1162.1L301.0 1162.1L300.0 1162.3L299.0 1162.2L298.0 1162.0L297.0 1161.8L296.0 1161.8L295.0 1161.9L294.0 1161.8L293.0 1161.9L292.0 1162.0L291.0 1162.2L290.0 1162.1L289.0 1162.0L288.0 1161.8L287.0 1161.8L286.0 1161.9L285.0 1162.0L284.0 1162.0L283.0 1162.0L282.0 1162.0L281.0 1161.9L280.0 1162.1L279.0 1162.3L278.0 1162.3L277.0 1162.1L276.0 1162.1L275.0 1162.1L274.0 1162.1L273.0 1162.1L272.0 1162.0L271.0 1162.1L270.0 1162.1L269.0 1162.1L268.0 1162.2L267.0 1162.3L266.0 1162.3L265.0 1162.3L264.0 1162.1L263.0 1161.9L262.0 1161.9L261.0 1162.1L260.0 1162.1L259.0 1162.1L258.0 1162.1L257.0 1162.1L256.0 1162.1L255.0 1162.1L254.0 1162.0L253.0 1162.0L252.0 1162.2L251.0 1162.2L250.0 1161.9L249.0 1161.8L248.0 1162.0L247.0 1162.2L246.0 1162.2L245.0 1162.1L244.0 1162.2L243.0 1162.3L242.0 1162.3L241.0 1162.2L240.0 1162.2L239.0 1162.1L238.0 1162.0L237.0 1162.0L236.0 1161.9L235.0 1161.7L234.0 1161.6L233.0 1161.8L232.0 1161.9L231.0 1162.0L230.0 1162.0L229.0 1162.1L228.0 1162.2L227.0 1162.2L226.0 1162.2L225.0 1162.2L224.0 1162.3L223.0 1162.4L222.0 1162.4L221.0 1162.1L220.0 1162.1L219.0 1162.2L218.0 1162.2L217.0 1162.3L216.0 1162.4L215.0 1162.5L214.0 1162.4L213.0 1162.5L212.0 1162.5L211.0 1162.4L210.0 1162.3L209.0 1162.2L208.0 1162.3L207.0 1162.2L206.0 1162.1L205.0 1162.1L204.0 1162.1L203.0 1162.0L202.0 1161.9L201.0 1161.8L200.0 1162.0L199.0 1162.2L198.0 1162.0L197.0 1161.7L196.0 1161.8L195.0 1162.2L194.0 1162.3L193.0 1162.2L192.0 1162.0L191.0 1161.9L190.0 1162.0L189.0 1162.2L188.0 1162.1L187.0 1162.0L186.0 1162.2L185.0 1162.4L184.0 1162.4L183.0 1162.3L182.0 1162.3L181.0 1162.1L180.0 1162.1L179.0 1162.3L178.0 1162.4L177.0 1162.5L176.0 1162.4L175.0 1162.3L174.0 1162.1L173.0 1162.0L172.0 1162.0L171.0 1162.1L170.0 1162.1L169.0 1162.2L168.0 1162.1L167.0 1162.1L166.0 1162.1L165.0 1162.2L164.0 1162.1L163.0 1162.1L162.0 1162.1L161.0 1162.3L160.0 1162.4L159.0 1162.4L158.0 1162.4L157.0 1162.3L156.0 1162.3L155.0 1162.2Z M559.0 578.9L559.0 579.1L557.7 581.4L552.7 580.8L552.2 579.7L552.5 579.9L553.0 580.6L553.5 581.5L553.9 582.6L562.1 579.8L561.6 578.4L561.1 577.0L560.7 575.7L560.1 574.3L558.6 572.6L553.5 571.9L551.5 574.5L550.9 575.9Z M582.5 757.3L582.8 758.3L583.1 759.2L583.4 760.2L583.7 761.2L584.0 762.2L584.4 763.1L584.8 764.1L585.2 765.0L585.5 766.0L585.8 767.0L586.2 767.9L586.5 768.9L586.9 769.9L587.3 770.8L587.7 771.7L588.1 772.7L588.5 773.6L588.9 774.6L589.2 775.5L589.6 776.5L589.9 777.4L590.3 778.3L590.8 779.2L591.2 780.2L591.5 781.1L591.8 782.1L592.2 783.0L592.7 783.9L593.1 784.8L593.5 785.8L593.9 786.8L594.4 787.7L594.9 788.6L595.4 789.5L595.9 790.4L596.3 791.3L596.7 792.2L597.4 793.0L598.0 793.9L598.4 794.8L598.6 795.8L599.0 796.7L599.4 797.7L599.8 798.6L600.3 799.4L600.8 800.3L601.4 801.1L602.0 801.9L602.4 802.8L602.8 803.7L603.2 804.6L603.6 805.5L604.1 806.3L604.5 807.2L605.0 808.1L605.4 809.0L605.8 809.9L606.2 810.8L606.7 811.7L607.2 812.5L607.6 813.4L608.0 814.3L608.4 815.3L608.7 816.2L609.1 817.1L609.5 818.0L609.9 819.0L610.3 819.9L610.7 820.8L611.2 821.6L611.7 822.5L612.1 823.4L612.4 824.4L612.8 825.3L613.2 826.2L613.6 827.2L614.0 828.1L614.5 829.0L614.9 829.9L615.3 830.8L615.7 831.7L616.0 832.7L616.4 833.6L616.8 834.5L617.2 835.4L617.6 836.4L618.0 837.3L618.4 838.2L618.9 839.1L619.3 840.0L619.6 840.9L620.0 841.8L620.5 842.7L621.0 843.5L621.6 844.4L622.1 845.3L622.4 846.2L622.7 847.2L623.1 848.1L623.6 849.0L624.0 849.9L624.4 850.8L624.8 851.7L625.2 852.7L625.6 853.6L626.1 854.5L626.4 855.4L626.9 856.3L627.3 857.2L627.8 858.1L628.2 859.0L628.7 859.9L629.1 860.9L629.4 861.8L629.7 862.8L630.2 863.7L630.7 864.5L631.2 865.4L631.7 866.3L632.1 867.2L632.5 868.2L632.9 869.1L633.3 870.0L633.8 870.9L634.2 871.8L634.7 872.7L635.1 873.7L635.5 874.6L636.1 875.4L636.5 876.3L637.0 877.2L637.5 878.1L638.0 879.0L638.4 879.9L639.0 880.8L639.5 881.7L639.9 882.5L640.4 883.4L640.9 884.3L641.3 885.3L641.7 886.2L642.2 887.1L642.7 887.9L643.0 888.9L643.3 889.9L643.9 890.7L644.6 891.5L645.2 892.3L645.6 893.2L646.1 894.1L646.8 894.9L647.3 895.8L647.7 896.7L648.2 897.5L648.8 898.4L649.3 899.2L649.8 900.1L650.3 901.0L650.7 901.9L651.2 902.8L651.8 903.6L652.4 904.4L652.9 905.3L653.3 906.2L653.6 907.2L654.1 908.1L654.8 908.9L655.3 909.7L655.7 910.6L656.3 911.5L656.9 912.3L657.5 913.1L658.1 913.9L658.7 914.7L659.2 915.6L659.8 916.4L660.3 917.3L660.9 918.1L661.5 919.0L661.9 919.9L662.3 920.8L662.8 921.7L663.3 922.5L663.8 923.4L664.3 924.3L664.9 925.1L665.6 925.9L666.2 926.7L666.7 927.5L667.4 928.3L667.9 929.2L668.4 930.0L668.8 931.0L669.3 931.9L669.9 932.7L670.6 933.4L671.1 934.3L671.7 935.2L672.3 936.0L673.0 936.7L673.5 937.6L674.0 938.5L674.5 939.4L675.1 940.2L675.8 941.0L676.4 941.8L676.9 942.7L677.6 943.5L678.4 944.1L679.1 944.8L679.8 945.6L680.2 946.6L680.6 947.6L681.3 948.3L682.0 949.0L682.5 949.9L683.0 950.8L683.5 951.7L684.2 952.5L684.9 953.2L685.7 953.8L686.3 954.7L686.8 955.5L687.3 956.5L687.9 957.3L688.6 958.0L689.4 958.7L690.2 959.3L691.0 960.0L691.6 960.7L692.1 961.6L692.7 962.5L693.3 963.3L693.9 964.1L694.4 964.9L695.2 965.6L696.0 966.2L696.7 967.0L697.2 967.9L697.7 968.7L698.5 969.4L699.2 970.1L699.9 970.8L700.6 971.6L701.4 972.2L702.0 973.0L702.7 973.8L703.3 974.6L704.0 975.3L704.5 976.2L705.3 976.9L705.8 977.7L706.3 978.6L706.8 979.6L707.4 980.4L708.1 981.1L709.1 981.6L709.9 982.2L710.4 983.2L710.7 984.3L711.6 984.9L712.5 985.5L713.3 986.1L714.2 986.7L715.0 987.3L715.8 988.0L716.3 989.0L716.9 989.8L717.5 990.7L718.3 991.4L719.1 992.0L719.8 992.8L720.5 993.5L721.1 994.4L721.8 995.1L722.5 995.9L723.5 996.4L724.3 996.9L725.0 997.7L725.8 998.3L726.9 998.7L727.7 999.3L728.3 1000.3L728.9 1001.1L729.6 1001.9L730.3 1002.6L731.0 1003.5L731.8 1004.2L732.6 1004.8L733.8 1005.0L734.7 1005.5L735.5 1006.1L736.2 1006.8L737.3 1007.1L738.4 1007.4L739.3 1007.8L740.1 1008.5L740.9 1009.1L741.8 1009.6L742.7 1010.1L743.4 1010.9L744.1 1011.6L744.9 1012.2L745.7 1012.9L746.5 1013.6L747.3 1014.1L748.4 1014.4L749.2 1014.9L750.1 1015.4L750.9 1016.1L751.8 1016.5L752.8 1016.8L753.7 1017.2L754.5 1017.8L755.2 1018.6L755.9 1019.3L756.9 1019.7L757.8 1020.0L758.8 1020.4L759.6 1021.1L760.5 1021.5L761.5 1021.9L762.3 1022.5L762.9 1023.3L763.8 1023.9L764.9 1023.9L765.9 1024.3L766.7 1024.9L767.5 1025.6L768.3 1026.3L768.9 1027.3L769.7 1028.0L770.5 1028.7L771.2 1029.4L772.1 1030.0L773.2 1030.0L774.2 1030.5L774.9 1031.3L775.5 1032.4L776.4 1033.0L777.4 1033.3L778.4 1033.6L779.6 1033.7L780.6 1033.9L781.7 1034.2L782.4 1035.2L783.2 1035.9L784.4 1035.7L785.5 1035.8L786.4 1036.1L787.2 1037.0L788.2 1037.1L789.1 1037.5L790.0 1037.9L790.9 1038.5L791.8 1038.7L792.7 1039.3L793.5 1039.9L794.3 1040.4L795.2 1040.6L796.2 1040.8L796.9 1041.4L797.8 1041.8L798.6 1042.2L799.6 1042.4L800.5 1042.6L801.5 1042.8L802.3 1043.3L803.0 1044.1L803.6 1044.9L804.4 1045.5L805.4 1045.7L806.3 1046.0L807.1 1046.6L807.8 1047.3L808.7 1047.8L809.8 1047.9L810.7 1048.3L811.6 1048.7L812.4 1049.4L813.5 1049.6L814.2 1050.2L815.1 1050.7L815.8 1051.6L816.4 1052.4L817.1 1053.3L818.1 1053.6L819.2 1053.7L820.2 1054.0L820.9 1054.8L821.5 1055.6L822.3 1056.3L823.2 1056.8L824.0 1057.3L824.8 1057.9L825.6 1058.6L826.5 1059.0L827.4 1059.3L828.6 1059.3L829.7 1059.5L830.6 1059.9L831.4 1060.6L832.1 1061.3L832.8 1062.2L833.6 1062.8L834.6 1063.2L835.6 1063.5L836.4 1064.1L837.2 1064.7L838.0 1065.4L838.8 1066.1L839.6 1066.8L840.5 1067.4L841.4 1067.9L842.3 1068.3L843.1 1069.0L843.9 1069.6L844.9 1070.0L845.9 1070.2L846.9 1070.6L847.9 1070.8L848.9 1071.1L849.8 1071.5L850.7 1072.0L851.6 1072.5L852.4 1073.1L853.2 1073.8L854.0 1074.5L855.0 1074.8L855.8 1075.5L856.8 1075.7L857.8 1076.0L858.5 1076.8L859.3 1077.6L860.2 1078.1L861.3 1078.1L862.3 1078.4L863.3 1078.4L864.4 1078.5L865.4 1078.8L866.2 1079.6L867.1 1080.0L868.1 1080.2L869.1 1080.4L870.0 1080.8L871.0 1081.1L872.1 1081.2L873.0 1081.7L873.9 1082.1L874.9 1082.5L875.8 1082.8L876.7 1083.4L877.5 1084.0L878.4 1084.5L879.3 1085.0L880.4 1085.2L881.4 1085.4L882.3 1085.9L883.1 1086.7L884.0 1087.2L885.0 1087.6L885.9 1088.0L886.8 1088.5L887.7 1089.2L888.7 1089.5L889.7 1089.7L890.7 1089.8L891.7 1090.2L892.8 1090.1L893.7 1090.5L894.6 1091.1L895.5 1091.6L896.5 1091.8L897.5 1092.1L898.5 1092.2L899.5 1092.5L900.5 1092.5L901.5 1092.8L902.5 1092.8L903.4 1093.4L904.3 1093.9L905.2 1094.5L906.2 1094.6L907.2 1094.8L908.2 1095.0L909.2 1095.1L910.3 1095.1L911.2 1095.6L912.1 1096.1L913.0 1096.4L914.2 1096.0L915.2 1096.2L916.2 1096.2L917.2 1096.7L918.2 1096.7L919.0 1097.6L920.0 1097.7L920.9 1098.3L921.9 1098.5L922.9 1098.8L924.0 1098.5L924.9 1099.1L925.7 1100.1L926.8 1100.0L927.9 1099.6L929.0 1099.4L929.9 1099.7L930.9 1099.8L931.8 1100.7L932.7 1101.3L933.6 1101.5L934.8 1101.2L935.7 1101.6L936.6 1102.1L937.7 1102.2L938.6 1102.4L939.7 1102.5L940.7 1102.8L941.7 1103.0L942.5 1104.0L943.4 1104.5L944.4 1104.6L945.4 1104.9L946.4 1105.4L947.4 1105.7L948.4 1105.8L949.4 1105.9L950.5 1105.9L951.5 1106.1L952.5 1106.3L953.5 1106.6L954.6 1106.2L955.7 1105.8L956.7 1105.9L957.6 1106.8L958.6 1106.9L959.6 1106.7L960.6 1107.0L961.6 1107.2L962.6 1107.3L963.6 1107.2L964.6 1107.2L965.6 1107.0L966.6 1107.4L967.6 1107.3L968.6 1107.3L969.6 1107.5L970.5 1107.8L971.6 1107.6L972.5 1107.7L973.4 1108.3L974.4 1108.7L975.3 1108.6L976.4 1108.4L977.2 1109.2L978.2 1109.4L979.1 1109.4L980.3 1108.8L981.2 1109.1L982.0 1109.9L982.9 1110.6L983.8 1111.0L984.8 1110.9L985.7 1111.6L986.6 1111.9L987.6 1111.9L988.7 1111.9L989.6 1112.2L990.5 1112.7L991.5 1112.8L992.5 1113.1L993.5 1113.2L994.6 1113.1L995.7 1112.9L996.6 1113.4L997.5 1114.0L998.4 1114.7L999.4 1114.7L1000.5 1114.6L1001.6 1114.4L1002.5 1115.1L1003.4 1115.7L1004.4 1115.9L1005.5 1115.4L1006.5 1115.5L1007.5 1115.7L1008.4 1116.2L1009.4 1116.5L1010.3 1116.7L1011.3 1116.9L1012.3 1117.2L1013.2 1117.8L1014.2 1118.1L1015.1 1118.7L1016.1 1118.9L1017.1 1119.0L1018.2 1118.5L1019.2 1118.7L1020.2 1118.6L1021.3 1118.3L1022.4 1117.9L1023.3 1118.5L1024.3 1118.8L1025.2 1119.3L1026.2 1119.6L1027.2 1119.6L1028.2 1119.4L1029.1 1120.2L1030.0 1120.7L1031.1 1120.6L1032.1 1120.5L1032.9 1121.3L1033.8 1122.1L1034.8 1122.1L1035.9 1122.0L1036.9 1122.1L1037.8 1122.6L1038.7 1123.4L1039.7 1123.5L1040.7 1123.5L1041.8 1123.1L1042.8 1123.2L1043.9 1122.9L1045.0 1122.7L1046.0 1122.7L1047.0 1122.9L1047.9 1123.3L1048.9 1123.5L1049.9 1123.8L1050.9 1123.9L1051.9 1124.2L1052.9 1124.5L1053.8 1125.0L1054.6 1126.1L1055.7 1126.1L1056.7 1125.7L1057.8 1125.2L1058.8 1125.4L1059.8 1125.5L1060.8 1125.6L1061.8 1125.9L1062.8 1126.3L1063.8 1126.3L1064.8 1126.2L1065.8 1126.3L1066.8 1126.7L1067.8 1126.8L1068.8 1127.0L1069.8 1127.4L1070.7 1127.7L1071.8 1127.6L1072.8 1127.8L1073.8 1127.8L1074.8 1127.9L1075.9 1127.7L1076.9 1127.8L1077.8 1128.3L1078.9 1128.1L1079.9 1128.0L1080.9 1127.9L1081.9 1128.6L1082.9 1128.6L1083.9 1128.8L1084.9 1128.3L1085.9 1128.4L1087.0 1128.4L1087.9 1129.0L1088.9 1129.0L1090.0 1128.7L1091.0 1128.3L1091.9 1129.0L1092.9 1130.0L1093.9 1130.2L1094.9 1130.1L1095.9 1130.1L1096.9 1130.1L1097.9 1129.6L1098.9 1130.0L1099.8 1130.8L1100.8 1130.9L1101.9 1130.5L1102.9 1130.4L1103.8 1131.3L1104.9 1130.8L1105.9 1130.3L1107.0 1130.3L1107.9 1130.7L1108.9 1130.7L1109.9 1130.9L1110.9 1131.5L1111.9 1131.5L1112.9 1131.5L1113.9 1131.4L1114.9 1131.7L1115.9 1131.7L1116.9 1131.7L1118.0 1131.2L1118.9 1131.5L1119.9 1132.2L1120.8 1132.8L1121.9 1132.4L1122.9 1132.1L1123.8 1132.5L1124.8 1133.1L1125.8 1133.0L1126.8 1132.6L1127.8 1132.6L1128.8 1132.8L1129.8 1132.6L1130.8 1132.8L1131.7 1133.2L1132.7 1133.4L1133.8 1132.8L1134.8 1132.5L1135.8 1132.8L1136.7 1133.6L1137.7 1133.8L1138.6 1134.1L1139.6 1134.1L1140.6 1134.0L1141.7 1133.1L1142.8 1132.8L1143.8 1132.9L1144.7 1133.6L1145.6 1134.2L1146.5 1135.0L1147.5 1135.2L1148.6 1134.8L1149.6 1134.9L1150.5 1135.3L1151.5 1135.3L1152.6 1134.7L1153.7 1134.3L1154.6 1134.5L1155.6 1134.9L1156.5 1135.7L1157.5 1136.1L1158.5 1136.4L1159.5 1136.5L1160.5 1136.5L1161.5 1136.3L1162.5 1136.2L1163.5 1136.2L1164.6 1136.3L1165.6 1136.3L1166.5 1136.8L1167.5 1136.9L1168.6 1136.5L1169.6 1136.3L1170.6 1136.9L1171.6 1137.1L1172.6 1136.8L1173.6 1136.7L1174.6 1137.1L1175.6 1137.1L1176.6 1137.3L1177.6 1137.4L1178.6 1137.6L1179.5 1137.9L1180.5 1137.9L1181.6 1137.8L1182.5 1138.0L1183.5 1138.4L1184.5 1138.5L1185.5 1138.5L1186.5 1138.6L1187.5 1138.8L1188.5 1139.1L1189.5 1139.0L1190.5 1138.9L1191.5 1139.2L1192.4 1139.7L1193.5 1139.4L1194.5 1139.2L1195.5 1139.4L1196.5 1139.8L1197.5 1140.0L1198.5 1140.1L1199.5 1140.2L1200.5 1140.1L1201.5 1139.9L1202.5 1140.2L1203.5 1140.3L1204.5 1140.3L1205.5 1140.2L1206.5 1140.4L1207.5 1140.8L1208.4 1141.2L1209.4 1141.0L1210.5 1140.8L1211.5 1140.8L1212.4 1141.3L1213.4 1141.4L1214.4 1141.9L1215.4 1142.2L1216.4 1142.0L1217.5 1141.5L1218.4 1141.7L1219.4 1142.0L1220.5 1141.4L1221.5 1141.1L1222.5 1141.2L1223.4 1142.2L1224.5 1142.0L1225.5 1142.1L1226.5 1141.8L1227.5 1142.3L1228.5 1142.0L1229.5 1142.0L1230.5 1142.2L1231.5 1142.4L1232.5 1142.6L1233.5 1142.5L1234.5 1142.4L1235.5 1142.3L1236.5 1142.4L1237.5 1142.6L1238.5 1143.2L1239.5 1143.4L1240.5 1143.0L1241.5 1142.8L1242.5 1143.7L1243.4 1144.5L1244.4 1144.8L1245.4 1144.6L1246.4 1144.1L1247.5 1143.6L1248.5 1142.7L1249.6 1142.4L1250.5 1142.7L1251.5 1143.2L1252.5 1142.7L1253.6 1142.3L1254.5 1142.8L1255.5 1143.8L1256.4 1144.8L1257.4 1145.3L1258.4 1144.7L1259.5 1143.5L1260.5 1143.4L1261.5 1144.4L1262.4 1144.8L1263.5 1144.5L1264.5 1144.3L1265.5 1144.7L1266.4 1144.8L1267.4 1145.0L1268.4 1145.3L1269.4 1145.4L1270.4 1145.4L1271.4 1145.8L1272.4 1145.8L1273.4 1145.2L1274.4 1144.9L1275.4 1145.8L1276.4 1146.2L1277.3 1146.3L1278.4 1145.9L1279.4 1146.0L1280.4 1145.8L1281.4 1145.9L1282.4 1146.0L1283.3 1146.2L1284.3 1146.5L1285.3 1146.8L1286.3 1146.7L1287.3 1146.6L1288.3 1146.2L1289.3 1146.5L1290.3 1147.3L1291.2 1148.0L1292.2 1147.8L1293.3 1147.2L1294.3 1147.2L1295.3 1147.1L1296.3 1147.2L1297.3 1147.1L1298.3 1147.1L1299.3 1147.0L1300.3 1147.2L1301.3 1147.0L1302.3 1147.3L1303.3 1147.6L1304.3 1147.4L1305.3 1146.9L1306.3 1147.1L1307.3 1147.5L1308.3 1147.5L1309.3 1147.5L1310.4 1146.8L1311.4 1146.5L1312.4 1147.1L1313.3 1148.1L1314.3 1148.0L1315.3 1147.8L1316.3 1147.7L1317.3 1147.9L1318.3 1148.0L1319.3 1148.1L1320.3 1148.1L1321.3 1148.6L1322.3 1148.6L1323.3 1148.7L1324.3 1148.4L1325.3 1148.5L1326.3 1148.6L1327.3 1149.1L1328.3 1149.7L1329.3 1149.8L1330.3 1149.4L1331.3 1149.2L1332.4 1148.9L1333.4 1148.9L1334.4 1149.0L1335.3 1149.7L1336.3 1149.5L1337.4 1149.1L1338.4 1149.4L1339.3 1149.9L1340.4 1149.7L1341.4 1148.9L1342.4 1149.0L1343.4 1149.7L1344.4 1150.1L1345.3 1150.4L1346.3 1150.4L1347.3 1150.6L1348.3 1150.7L1349.3 1150.8L1350.3 1150.9L1351.3 1150.8L1352.3 1150.7L1353.4 1150.8L1354.4 1150.7L1355.4 1150.6L1356.4 1150.1L1357.4 1150.0L1358.4 1149.9L1359.4 1150.2L1360.4 1150.4L1361.4 1150.4L1362.4 1150.6L1363.4 1150.2L1364.4 1149.6L1365.4 1149.2L1366.4 1149.3L1367.4 1149.9L1368.4 1150.8L1369.4 1151.0L1370.4 1150.7L1371.4 1151.0L1372.4 1151.4L1373.3 1151.5L1374.4 1151.0L1375.4 1151.1L1376.4 1151.4L1377.3 1151.6L1378.3 1151.7L1379.3 1152.0L1380.3 1151.9L1381.3 1152.1L1382.3 1152.0L1383.3 1151.8L1384.3 1151.7L1385.3 1152.1L1386.3 1152.4L1387.3 1152.2L1388.3 1152.0L1389.3 1151.8L1390.4 1151.3L1391.4 1151.3L1392.4 1151.4L1393.4 1151.7L1394.3 1151.9L1395.3 1152.4L1396.3 1153.3L1397.3 1153.2L1398.3 1152.8L1399.3 1152.3L1400.3 1153.1L1401.3 1153.3L1402.3 1152.7L1403.3 1152.5L1404.3 1152.5L1405.3 1152.6L1406.3 1152.6L1407.3 1152.8L1408.3 1152.7L1409.3 1152.7L1410.3 1153.0L1411.3 1153.1L1412.3 1152.8L1413.3 1152.6L1414.4 1152.3L1415.4 1152.0L1416.4 1152.4L1417.3 1153.0L1418.3 1153.6L1419.3 1153.1L1420.3 1153.0L1421.3 1152.9L1422.3 1152.9L1423.3 1153.1L1424.3 1153.3L1425.3 1153.6L1426.3 1153.2L1427.3 1153.5L1428.3 1154.0L1429.3 1154.4L1430.3 1153.9L1431.3 1153.5L1432.3 1153.8L1433.3 1154.1L1434.3 1154.2L1435.3 1154.0L1436.3 1153.8L1437.3 1154.1L1438.3 1153.8L1439.3 1153.8L1440.3 1153.7L1441.3 1153.8L1442.3 1153.7L1443.3 1154.1L1444.3 1154.5L1445.3 1154.1L1446.3 1154.0L1447.3 1154.3L1448.3 1154.6L1449.2 1154.9L1450.2 1155.0L1451.2 1155.2L1452.2 1155.3L1453.2 1155.3L1454.2 1155.0L1455.2 1155.1L1456.2 1155.6L1457.2 1156.3L1458.2 1156.6L1459.2 1156.6L1460.2 1156.3L1461.2 1156.1L1462.2 1155.9L1463.2 1155.8L1464.2 1156.2L1465.2 1156.3L1466.2 1156.2L1467.2 1156.0L1468.2 1156.0L1469.2 1155.8L1470.3 1155.2L1471.3 1155.2L1472.3 1155.4L1473.3 1156.0L1474.2 1156.2L1475.3 1156.0L1476.2 1156.4L1477.2 1156.8L1478.2 1157.1L1479.3 1156.1L1480.3 1156.0L1481.3 1156.2L1482.3 1156.5L1483.3 1156.4L1484.3 1156.7L1485.3 1156.8L1486.3 1156.4L1487.3 1156.5L1488.3 1156.8L1489.3 1157.0L1490.3 1157.3L1491.3 1157.6L1492.3 1157.6L1493.3 1157.2L1494.3 1157.1L1495.3 1157.2L1496.3 1157.2L1497.3 1157.0L1498.3 1156.8L1499.3 1156.9L1500.3 1157.2L1501.3 1157.5L1502.3 1157.8L1503.3 1158.0L1504.3 1158.1L1505.3 1158.0L1506.3 1158.0L1507.3 1158.2L1508.3 1157.9L1509.3 1157.9L1510.3 1158.6L1511.3 1158.9L1512.3 1158.8L1513.3 1157.9L1514.3 1158.0L1515.3 1158.1L1516.3 1158.8L1517.3 1158.4L1518.4 1157.3L1519.4 1156.5L1520.4 1156.7L1521.4 1157.1L1522.4 1157.4L1523.4 1157.4L1524.4 1157.7L1525.4 1157.9L1526.3 1158.0L1527.4 1157.6L1528.4 1157.8L1529.4 1157.4L1530.4 1157.9L1531.4 1157.8L1532.3 1158.3L1533.4 1158.0L1534.3 1158.1L1535.3 1158.2L1536.3 1158.3L1537.3 1158.2L1538.3 1158.3L1539.3 1158.5L1540.3 1159.1L1541.3 1159.1L1542.3 1159.1L1543.3 1159.0L1544.3 1159.4L1545.3 1159.5L1546.3 1159.3L1547.3 1159.5L1548.3 1159.6L1549.3 1159.3L1550.3 1158.9L1551.3 1158.8L1552.4 1158.2L1553.4 1157.5L1554.4 1157.8L1555.3 1158.6L1556.3 1159.1L1557.3 1159.1L1558.3 1159.0L1558.7 1147.9L1557.7 1147.7L1556.7 1147.2L1555.7 1147.2L1554.7 1147.1L1553.7 1147.6L1552.7 1147.9L1551.6 1148.4L1550.6 1148.0L1549.7 1147.5L1548.7 1147.2L1547.7 1147.2L1546.7 1147.6L1545.7 1147.7L1544.7 1147.5L1543.7 1147.0L1542.7 1146.8L1541.7 1146.9L1540.7 1146.9L1539.7 1146.8L1538.7 1146.7L1537.7 1147.0L1536.7 1147.3L1535.7 1147.1L1534.7 1146.6L1533.7 1146.6L1532.7 1146.6L1531.7 1146.2L1530.7 1146.3L1529.7 1146.5L1528.7 1147.1L1527.6 1147.4L1526.6 1147.3L1525.7 1146.5L1524.7 1146.6L1523.7 1147.0L1522.7 1147.0L1521.7 1146.9L1520.6 1147.6L1519.6 1147.6L1518.6 1147.2L1517.7 1146.5L1516.7 1146.7L1515.7 1146.3L1514.7 1146.3L1513.7 1146.8L1512.6 1147.3L1511.7 1146.7L1510.7 1145.9L1509.7 1145.7L1508.7 1145.7L1507.7 1145.8L1506.7 1145.8L1505.7 1145.5L1504.7 1144.7L1503.7 1144.8L1502.7 1144.9L1501.7 1145.2L1500.7 1145.7L1499.7 1145.8L1498.7 1145.9L1497.7 1145.7L1496.7 1146.5L1495.7 1146.7L1494.7 1146.8L1493.7 1146.0L1492.7 1145.2L1491.7 1145.1L1490.7 1145.5L1489.7 1145.7L1488.7 1145.5L1487.7 1145.3L1486.8 1145.3L1485.8 1145.3L1484.8 1145.4L1483.8 1145.0L1482.8 1144.8L1481.8 1144.6L1480.8 1145.0L1479.8 1145.5L1478.7 1146.1L1477.8 1145.9L1476.8 1145.5L1475.8 1144.9L1474.8 1145.0L1473.8 1145.0L1472.8 1145.6L1471.8 1145.1L1470.8 1144.7L1469.9 1143.7L1468.9 1143.6L1467.9 1143.4L1466.9 1144.0L1465.9 1144.1L1464.8 1144.5L1463.8 1144.7L1462.8 1145.2L1461.8 1145.0L1460.8 1144.3L1459.9 1143.9L1458.9 1143.9L1457.8 1144.5L1456.8 1144.8L1455.8 1144.8L1454.9 1144.0L1453.9 1143.5L1452.9 1143.5L1451.9 1142.9L1450.9 1142.4L1449.9 1142.5L1448.9 1142.9L1447.9 1142.4L1446.9 1142.1L1445.9 1142.5L1444.9 1142.7L1443.9 1142.5L1442.9 1142.2L1441.9 1142.5L1440.9 1142.4L1439.9 1142.3L1438.9 1142.3L1437.9 1142.5L1436.9 1142.8L1435.9 1142.8L1434.8 1143.0L1433.9 1142.5L1432.9 1141.8L1431.9 1141.6L1430.9 1141.8L1429.9 1141.7L1428.9 1141.0L1428.0 1140.6L1426.9 1141.0L1425.9 1141.8L1424.9 1141.8L1423.9 1141.3L1422.9 1141.1L1421.9 1141.5L1420.9 1141.8L1419.8 1142.5L1418.8 1142.6L1417.8 1142.4L1416.9 1142.2L1415.8 1142.9L1414.8 1143.0L1413.8 1142.6L1412.8 1142.6L1411.8 1143.0L1410.8 1143.1L1409.8 1142.2L1408.9 1141.8L1407.9 1141.6L1406.9 1141.7L1405.9 1141.4L1404.9 1141.5L1403.9 1141.8L1402.8 1142.5L1401.8 1142.6L1400.8 1142.4L1399.9 1141.1L1398.9 1140.8L1397.9 1141.0L1396.9 1140.8L1395.9 1140.0L1394.9 1140.1L1393.9 1139.9L1392.9 1140.0L1392.0 1139.4L1391.0 1139.4L1390.0 1139.1L1388.9 1139.9L1387.9 1140.1L1386.9 1140.7L1385.9 1140.8L1384.9 1140.9L1383.9 1140.6L1382.9 1141.1L1381.9 1140.9L1380.9 1139.9L1379.9 1139.6L1378.9 1140.0L1377.9 1140.4L1376.9 1140.1L1375.9 1140.0L1374.9 1139.6L1373.9 1139.0L1372.9 1138.9L1371.9 1139.3L1370.9 1139.5L1369.9 1139.4L1368.9 1139.5L1367.9 1139.8L1366.9 1140.1L1365.9 1140.1L1364.9 1140.3L1363.9 1140.0L1362.9 1139.5L1361.9 1139.0L1360.9 1139.0L1359.9 1139.1L1358.9 1139.2L1357.9 1139.1L1356.9 1138.6L1355.9 1138.5L1355.0 1138.2L1353.9 1138.4L1353.0 1138.2L1351.9 1138.4L1350.9 1138.5L1349.9 1138.8L1348.9 1138.5L1348.0 1138.2L1346.9 1138.6L1345.9 1139.2L1344.9 1138.9L1344.0 1138.2L1343.0 1138.0L1342.0 1137.9L1341.0 1137.5L1340.0 1136.8L1339.0 1136.9L1338.0 1137.3L1337.0 1138.0L1336.0 1138.4L1334.9 1138.9L1333.9 1138.7L1333.0 1138.2L1332.0 1137.5L1331.0 1137.1L1330.0 1137.6L1329.0 1137.9L1328.0 1137.6L1327.1 1137.0L1326.1 1137.0L1325.0 1137.6L1324.0 1138.3L1323.0 1138.2L1322.0 1137.7L1321.1 1136.8L1320.1 1136.4L1319.1 1136.1L1318.1 1136.2L1317.1 1136.3L1316.1 1136.2L1315.2 1136.0L1314.1 1136.0L1313.1 1136.1L1312.1 1136.3L1311.1 1136.7L1310.1 1137.0L1309.1 1137.3L1308.1 1136.9L1307.1 1136.7L1306.1 1136.3L1305.1 1136.4L1304.1 1136.2L1303.1 1136.1L1302.1 1136.0L1301.1 1136.1L1300.1 1136.2L1299.1 1135.9L1298.2 1135.6L1297.2 1135.6L1296.1 1135.7L1295.1 1135.9L1294.1 1135.7L1293.2 1134.7L1292.2 1134.2L1291.2 1134.3L1290.2 1134.6L1289.2 1133.9L1288.3 1133.6L1287.3 1133.5L1286.2 1134.1L1285.2 1133.9L1284.2 1134.1L1283.2 1134.0L1282.2 1133.8L1281.2 1133.3L1280.3 1132.7L1279.3 1132.0L1278.3 1132.4L1277.2 1133.1L1276.2 1133.4L1275.2 1133.2L1274.2 1133.3L1273.2 1133.3L1272.2 1133.6L1271.1 1134.1L1270.1 1134.3L1269.2 1133.7L1268.2 1133.0L1267.2 1132.7L1266.2 1133.0L1265.2 1132.8L1264.2 1132.6L1263.2 1132.5L1262.2 1132.8L1261.2 1132.7L1260.2 1132.8L1259.2 1132.8L1258.2 1132.6L1257.2 1132.1L1256.2 1131.6L1255.2 1131.6L1254.2 1132.6L1253.1 1133.3L1252.1 1133.2L1251.2 1132.0L1250.2 1131.3L1249.2 1131.3L1248.2 1131.8L1247.2 1131.8L1246.2 1131.7L1245.2 1132.1L1244.2 1132.2L1243.2 1132.0L1242.3 1131.1L1241.3 1130.7L1240.3 1130.1L1239.3 1130.4L1238.3 1130.8L1237.3 1131.1L1236.3 1130.9L1235.3 1131.0L1234.3 1130.9L1233.3 1131.0L1232.3 1130.9L1231.3 1130.9L1230.3 1131.0L1229.3 1131.1L1228.3 1130.9L1227.3 1130.3L1226.3 1130.0L1225.3 1130.5L1224.3 1130.3L1223.3 1130.1L1222.3 1130.1L1221.3 1130.4L1220.4 1129.7L1219.4 1129.2L1218.4 1129.4L1217.3 1130.0L1216.3 1130.2L1215.4 1129.5L1214.4 1129.2L1213.4 1129.4L1212.4 1129.7L1211.4 1129.9L1210.3 1130.3L1209.4 1129.9L1208.4 1128.9L1207.4 1128.8L1206.4 1129.2L1205.4 1129.7L1204.4 1129.3L1203.4 1129.0L1202.5 1128.6L1201.5 1128.3L1200.5 1128.3L1199.5 1128.1L1198.5 1128.3L1197.5 1128.0L1196.5 1127.7L1195.5 1127.3L1194.5 1127.4L1193.5 1127.6L1192.5 1128.2L1191.5 1128.1L1190.5 1127.6L1189.6 1127.0L1188.6 1126.9L1187.5 1127.5L1186.5 1127.5L1185.5 1127.3L1184.6 1126.7L1183.5 1127.2L1182.6 1126.9L1181.6 1126.5L1180.6 1126.5L1179.6 1126.9L1178.6 1126.7L1177.6 1126.6L1176.5 1127.2L1175.5 1127.5L1174.5 1127.4L1173.5 1127.3L1172.5 1126.8L1171.6 1126.4L1170.6 1126.4L1169.6 1126.4L1168.6 1126.3L1167.7 1125.8L1166.7 1125.7L1165.7 1125.6L1164.7 1125.6L1163.7 1125.4L1162.7 1125.5L1161.7 1125.6L1160.7 1125.2L1159.8 1124.7L1158.8 1124.3L1157.8 1124.3L1156.8 1124.3L1155.7 1124.8L1154.7 1124.7L1153.7 1124.8L1152.8 1124.2L1151.8 1124.1L1150.8 1123.5L1149.8 1123.4L1148.9 1123.0L1147.8 1123.5L1146.7 1124.1L1145.7 1124.3L1144.7 1124.0L1143.8 1123.6L1142.8 1123.0L1141.9 1122.2L1140.9 1122.0L1139.9 1121.8L1138.9 1121.7L1137.9 1121.3L1136.9 1121.2L1135.9 1121.2L1134.9 1121.5L1133.8 1121.8L1132.8 1122.1L1131.8 1121.6L1130.8 1121.4L1129.8 1121.3L1128.8 1121.5L1127.8 1121.4L1126.8 1121.2L1125.8 1120.5L1124.8 1120.5L1123.8 1120.7L1122.8 1121.1L1121.8 1120.2L1120.8 1120.0L1119.8 1120.1L1118.8 1120.8L1117.7 1121.1L1116.7 1121.5L1115.7 1121.3L1114.7 1120.7L1113.8 1120.2L1112.8 1120.2L1111.8 1120.3L1110.7 1120.7L1109.8 1120.6L1108.8 1120.3L1107.8 1119.8L1106.8 1119.8L1105.9 1119.6L1104.9 1119.3L1103.9 1118.6L1102.9 1118.7L1101.9 1119.0L1100.9 1118.9L1100.0 1118.2L1099.0 1118.3L1097.9 1118.7L1096.9 1119.0L1095.9 1119.0L1094.9 1118.9L1094.0 1118.5L1092.9 1118.6L1091.9 1119.1L1090.8 1119.7L1089.9 1119.3L1088.9 1118.8L1088.0 1118.1L1087.0 1118.5L1085.9 1118.9L1084.9 1119.1L1084.0 1118.4L1083.0 1117.9L1082.1 1117.7L1081.0 1118.0L1080.1 1117.4L1079.2 1116.8L1078.2 1116.5L1077.2 1117.0L1076.2 1116.6L1075.2 1116.5L1074.2 1117.2L1073.1 1117.4L1072.2 1116.9L1071.4 1115.7L1070.4 1115.6L1069.4 1115.4L1068.4 1115.7L1067.5 1115.2L1066.5 1115.1L1065.5 1114.7L1064.5 1114.9L1063.5 1114.6L1062.5 1114.7L1061.5 1114.7L1060.6 1114.3L1059.6 1113.9L1058.7 1113.5L1057.7 1113.0L1056.8 1112.5L1055.8 1112.3L1054.8 1112.5L1053.8 1112.6L1052.7 1113.3L1051.6 1113.8L1050.6 1113.5L1049.8 1112.6L1048.9 1112.1L1047.8 1112.3L1046.8 1112.3L1045.9 1112.0L1044.9 1111.9L1043.8 1112.1L1042.8 1112.1L1041.8 1112.0L1040.9 1111.7L1039.9 1111.5L1039.0 1110.7L1038.1 1110.1L1037.2 1109.8L1036.1 1110.2L1035.1 1109.9L1034.1 1109.9L1033.2 1109.3L1032.3 1108.6L1031.5 1107.7L1030.4 1108.2L1029.2 1108.8L1028.2 1108.7L1027.3 1108.1L1026.3 1108.3L1025.2 1108.6L1024.2 1108.5L1023.3 1107.9L1022.4 1107.3L1021.5 1106.5L1020.6 1106.1L1019.6 1106.2L1018.5 1106.5L1017.5 1106.2L1016.6 1106.0L1015.5 1106.2L1014.5 1106.2L1013.5 1105.9L1012.5 1105.8L1011.5 1105.6L1010.6 1105.4L1009.7 1104.9L1008.8 1104.4L1007.7 1104.8L1006.5 1105.3L1005.5 1105.5L1004.6 1104.7L1003.8 1104.0L1002.8 1103.6L1001.9 1103.5L1000.9 1103.4L999.9 1103.2L998.9 1103.1L998.0 1102.8L997.1 1102.3L996.1 1102.1L995.1 1102.0L994.0 1102.3L993.1 1102.0L992.1 1101.9L991.1 1101.7L990.1 1101.3L989.3 1100.6L988.3 1100.3L987.2 1100.4L986.3 1100.1L985.3 1099.5L984.4 1099.1L983.3 1099.3L982.2 1099.4L981.3 1099.1L980.3 1098.9L979.2 1098.8L978.2 1098.8L977.2 1098.6L976.2 1097.9L975.3 1097.2L974.4 1096.8L973.3 1097.0L972.2 1097.2L971.2 1097.2L970.2 1096.7L969.2 1096.6L968.1 1097.0L967.1 1097.3L966.1 1097.3L965.1 1096.9L964.1 1096.7L963.2 1096.1L962.3 1095.3L961.4 1094.9L960.3 1095.2L959.3 1095.6L958.3 1095.5L957.4 1094.9L956.4 1094.9L955.4 1094.9L954.4 1095.0L953.5 1094.2L952.5 1094.2L951.6 1093.8L950.6 1093.7L949.7 1093.3L948.8 1093.1L947.7 1093.3L946.8 1093.1L945.8 1092.9L944.9 1092.8L943.8 1093.0L942.8 1092.8L941.9 1092.3L941.1 1091.5L940.3 1090.8L939.4 1090.3L938.3 1090.4L937.4 1090.0L936.5 1089.4L935.6 1089.0L934.5 1089.3L933.4 1089.6L932.4 1089.7L931.4 1089.5L930.5 1089.1L929.6 1088.6L928.5 1088.8L927.4 1089.1L926.5 1088.9L925.6 1088.4L924.6 1088.2L923.6 1088.0L922.8 1087.2L922.0 1086.6L921.0 1086.4L920.0 1086.4L919.0 1086.1L918.1 1085.7L917.3 1085.1L916.4 1084.6L915.4 1084.4L914.3 1084.6L913.3 1084.5L912.3 1084.3L911.5 1083.6L910.7 1082.8L909.8 1082.5L908.8 1082.4L907.8 1082.2L906.8 1081.9L905.9 1081.7L904.9 1081.6L903.9 1081.4L902.9 1081.2L901.9 1081.1L901.1 1080.4L900.1 1080.2L899.2 1079.6L898.1 1079.9L897.2 1079.4L896.2 1079.6L895.2 1079.2L894.3 1079.0L893.4 1078.5L892.4 1078.5L891.4 1078.4L890.5 1078.0L889.5 1077.7L888.5 1077.7L887.7 1077.2L887.0 1076.3L886.2 1075.6L885.1 1075.8L884.3 1075.2L883.5 1074.7L882.6 1074.1L881.6 1074.2L880.8 1073.6L879.8 1073.3L879.0 1072.8L878.2 1072.2L877.2 1071.9L876.2 1071.9L875.1 1071.8L874.1 1071.6L873.1 1071.4L872.3 1070.9L871.6 1070.0L870.9 1069.1L869.9 1069.0L868.6 1069.5L867.6 1069.2L866.9 1068.3L866.3 1067.3L865.3 1067.1L864.5 1066.5L863.4 1066.4L862.3 1066.5L861.2 1066.5L860.4 1065.8L859.7 1065.0L858.6 1065.0L857.7 1064.6L857.1 1063.6L856.6 1062.3L855.8 1061.9L854.8 1061.5L853.9 1061.3L852.8 1061.1L851.9 1060.8L851.0 1060.4L850.4 1059.3L849.8 1058.5L848.9 1058.1L847.7 1058.3L846.6 1058.2L845.8 1057.6L845.1 1056.9L844.2 1056.5L843.2 1056.3L842.5 1055.7L841.6 1055.3L840.6 1055.0L839.7 1054.6L839.1 1053.7L838.4 1053.0L837.5 1052.6L836.5 1052.4L835.5 1052.0L834.7 1051.4L834.0 1050.7L833.1 1050.2L832.2 1049.9L831.3 1049.3L830.7 1048.4L829.9 1047.7L829.0 1047.4L828.1 1046.9L827.3 1046.2L826.5 1045.6L825.5 1045.3L824.5 1045.0L823.6 1044.5L823.0 1043.7L822.2 1043.1L821.3 1042.6L820.5 1042.0L819.7 1041.5L818.7 1041.1L817.7 1040.9L816.8 1040.4L816.2 1039.5L815.4 1038.9L814.3 1038.7L813.3 1038.3L812.6 1037.6L811.9 1036.7L811.0 1036.2L810.2 1035.6L809.2 1035.3L808.3 1034.7L807.4 1034.2L806.5 1033.7L805.5 1033.3L804.6 1032.8L803.8 1032.0L802.9 1031.5L802.0 1031.0L800.8 1031.1L799.8 1030.7L799.0 1029.9L798.3 1028.9L797.3 1028.7L796.2 1028.5L795.4 1028.0L794.5 1027.3L793.6 1027.0L792.6 1026.7L791.6 1026.5L790.8 1025.7L790.1 1025.0L789.3 1024.4L788.3 1024.2L787.4 1024.0L786.3 1024.0L785.2 1024.1L784.2 1023.9L783.6 1023.2L783.0 1022.2L782.3 1021.5L781.3 1021.4L780.2 1021.5L779.2 1021.2L778.5 1020.6L777.6 1020.2L776.8 1019.5L776.0 1019.1L775.3 1018.3L774.4 1018.0L773.6 1017.3L772.8 1016.8L771.9 1016.3L771.2 1015.7L770.3 1015.2L769.4 1014.7L768.5 1014.4L767.6 1013.9L766.7 1013.5L765.7 1013.3L765.0 1012.5L764.2 1011.9L763.5 1011.2L762.4 1011.1L761.4 1010.7L760.5 1010.3L759.7 1009.6L758.9 1009.1L757.9 1008.8L757.1 1008.1L756.3 1007.6L755.4 1007.0L754.7 1006.4L754.1 1005.4L753.2 1005.0L752.3 1004.6L751.4 1004.1L750.5 1003.7L749.5 1003.5L748.6 1003.0L747.8 1002.4L747.0 1001.8L746.4 1000.9L745.6 1000.4L744.8 999.7L744.0 999.3L743.4 998.4L742.7 997.7L742.0 997.0L741.0 996.7L740.3 996.1L739.4 995.6L738.7 995.1L737.8 994.7L737.1 993.9L736.5 993.1L735.8 992.4L735.1 991.8L734.1 991.5L733.0 991.3L732.0 991.0L731.4 990.2L731.0 989.1L730.5 988.2L729.6 987.8L728.6 987.5L727.8 986.8L727.1 986.1L726.6 985.3L725.8 984.7L725.0 984.1L724.3 983.5L723.8 982.6L723.1 981.9L722.2 981.5L721.5 980.8L720.9 980.0L720.1 979.4L719.3 978.9L718.7 978.1L718.2 977.3L717.7 976.5L717.0 975.8L716.2 975.1L715.7 974.3L715.1 973.5L714.5 972.7L713.7 972.1L712.8 971.5L712.0 970.9L711.4 970.1L710.8 969.3L710.0 968.7L709.2 968.1L708.7 967.2L708.3 966.3L707.6 965.6L706.9 964.9L706.2 964.2L705.7 963.3L705.2 962.5L704.5 961.7L703.9 960.9L703.4 960.0L702.8 959.2L702.0 958.6L701.2 958.0L700.5 957.2L699.7 956.6L699.1 955.8L698.3 955.1L697.9 954.2L697.3 953.4L696.8 952.6L696.0 951.9L695.4 951.1L694.8 950.3L694.3 949.5L693.7 948.7L693.2 947.9L692.5 947.1L691.7 946.5L691.0 945.8L690.4 945.0L689.9 944.2L689.2 943.4L688.7 942.6L688.0 941.9L687.3 941.2L686.6 940.4L686.2 939.5L685.6 938.7L685.0 938.0L684.3 937.2L683.9 936.3L683.4 935.4L682.9 934.6L682.3 933.8L681.8 933.0L681.2 932.2L680.6 931.4L680.0 930.7L679.3 929.9L678.7 929.2L678.3 928.2L677.8 927.4L677.4 926.5L676.7 925.7L676.2 924.9L675.7 924.1L675.1 923.2L674.6 922.4L673.8 921.7L673.3 920.8L672.8 920.0L672.3 919.1L671.6 918.4L671.1 917.5L670.6 916.7L670.2 915.8L669.8 914.8L669.3 914.0L668.7 913.2L668.0 912.4L667.4 911.6L666.9 910.8L666.4 909.9L665.8 909.1L665.1 908.4L664.5 907.6L664.1 906.7L663.6 905.8L663.1 905.0L662.5 904.2L662.0 903.3L661.4 902.5L660.9 901.6L660.5 900.7L660.1 899.8L659.7 898.9L659.1 898.1L658.7 897.2L658.2 896.3L657.8 895.4L657.3 894.5L656.8 893.7L656.2 892.9L655.6 892.1L655.1 891.2L654.5 890.4L654.1 889.5L653.6 888.7L653.1 887.8L652.6 886.9L652.1 886.1L651.7 885.2L651.2 884.3L650.6 883.5L650.0 882.7L649.5 881.8L649.1 880.9L648.6 880.1L648.1 879.2L647.8 878.2L647.4 877.3L646.9 876.5L646.3 875.7L645.9 874.8L645.5 873.9L645.1 873.0L644.7 872.1L644.1 871.3L643.6 870.4L643.1 869.6L642.7 868.6L642.3 867.8L641.8 866.9L641.3 866.0L640.9 865.1L640.4 864.3L639.9 863.5L639.4 862.6L639.1 861.6L638.7 860.7L638.3 859.8L638.0 858.9L637.6 857.9L637.1 857.1L636.6 856.2L636.1 855.4L635.6 854.5L635.2 853.6L634.8 852.7L634.5 851.7L634.0 850.8L633.6 849.9L633.2 849.0L632.7 848.1L632.3 847.2L632.0 846.3L631.6 845.4L631.2 844.5L630.8 843.6L630.4 842.6L629.9 841.7L629.5 840.8L629.1 839.9L628.7 839.0L628.3 838.1L627.8 837.2L627.4 836.3L627.0 835.4L626.6 834.5L626.2 833.6L625.8 832.6L625.3 831.7L625.0 830.8L624.6 829.9L624.3 828.9L623.9 828.0L623.4 827.1L622.8 826.3L622.4 825.4L622.1 824.4L621.7 823.5L621.3 822.6L620.9 821.7L620.5 820.8L620.1 819.8L619.7 818.9L619.3 818.0L618.8 817.1L618.4 816.2L618.1 815.3L617.7 814.3L617.3 813.4L616.7 812.6L616.3 811.7L615.8 810.8L615.5 809.8L615.0 808.9L614.6 808.0L614.1 807.1L613.6 806.2L613.2 805.3L612.8 804.4L612.4 803.4L612.0 802.5L611.6 801.6L611.0 800.7L610.5 799.8L610.2 798.8L609.9 797.9L609.4 797.0L608.8 796.1L608.5 795.2L608.0 794.2L607.6 793.3L607.1 792.5L606.7 791.5L606.2 790.7L605.7 789.8L605.2 789.0L604.7 788.1L604.3 787.2L603.7 786.4L603.2 785.6L602.7 784.7L602.4 783.8L602.1 782.9L601.6 782.0L601.2 781.2L600.8 780.3L600.5 779.4L600.2 778.4L599.7 777.6L599.3 776.7L598.9 775.8L598.6 774.8L598.1 773.9L597.7 773.0L597.3 772.1L596.9 771.2L596.5 770.3L596.1 769.4L595.7 768.5L595.3 767.6L594.9 766.7L594.6 765.7L594.3 764.8L594.0 763.9L593.6 763.0L593.2 762.0L592.9 761.1L592.6 760.2L592.2 759.3L591.9 758.3L591.6 757.4L591.2 756.5L590.9 755.6L590.6 754.7Z" fill="#e84246" stroke="none"/>
<path d="M554.2 356.9L556.1 356.4L557.9 357.0L559.8 358.1L561.4 359.2L562.8 360.6L564.1 362.1L565.3 363.8L566.4 365.5L567.5 367.1L568.6 368.8L569.6 370.6L570.7 372.3L571.8 373.9L572.9 375.6L574.0 377.3L575.2 378.9L576.4 380.5L577.7 382.0L579.1 383.5L580.5 384.9L582.0 386.2L583.5 387.5L585.0 388.8L586.6 390.0L588.3 391.2L590.0 392.2L591.7 393.2L593.5 394.1L595.3 395.0L597.1 395.8L599.0 396.5L600.8 397.3L602.7 398.1L604.5 398.9L606.4 399.6L608.3 400.4L610.1 401.1L612.0 401.9L613.8 402.7L615.6 403.6L617.4 404.5L619.1 405.4L620.9 406.3L622.7 407.3L624.4 408.3L626.2 409.2L627.9 410.2L629.6 411.2L631.3 412.3L633.1 413.3L634.8 414.3L636.5 415.3L638.3 416.3L640.0 417.3L641.7 418.3L643.4 419.3L645.2 420.4L646.9 421.4L648.6 422.4L650.3 423.5L652.0 424.5L653.7 425.5L655.5 426.5L657.2 427.5L658.9 428.5L660.7 429.5L662.4 430.5L664.1 431.5L665.9 432.5L667.7 433.4L669.4 434.4L671.2 435.3L672.9 436.3L674.7 437.2L676.5 438.1L678.3 439.1L680.0 440.0L681.8 440.9L683.6 441.9L685.3 442.8L687.1 443.7L688.9 444.6L690.7 445.5L692.5 446.4L694.3 447.3L696.1 448.1L697.9 449.0L699.7 449.8L701.5 450.7L703.4 451.5L705.2 452.3L707.0 453.1L708.9 453.9L710.7 454.7L712.5 455.5L714.4 456.3L716.2 457.0L718.1 457.8L719.9 458.6L721.8 459.3L723.6 460.1L725.4 460.9L727.3 461.7L729.2 462.4L731.0 463.1L732.9 463.7L734.9 464.3L736.8 464.9L738.7 465.4L740.6 466.0L742.6 466.5L744.5 467.0L746.4 467.5L748.4 467.9L750.3 468.4L752.3 468.8L754.2 469.3L756.2 469.7L758.2 470.1L760.1 470.5L762.1 470.9L764.0 471.4L766.0 471.8L767.9 472.2L769.9 472.6L771.8 473.1L773.8 473.5L775.8 474.0L777.7 474.4L779.7 474.8L781.6 475.3L783.6 475.7L785.5 476.2L787.5 476.6L789.4 477.0L791.4 477.5L793.3 477.9L795.3 478.4L797.2 478.8L799.2 479.2L801.2 479.6L803.1 480.0L805.1 480.4L807.1 480.8L809.0 481.3L811.0 481.7L812.9 482.1L814.9 482.6L816.8 483.1L818.7 483.6L820.7 484.1L822.6 484.7L824.4 485.3L826.3 486.0L828.2 486.7L830.1 487.4L831.9 488.1L833.8 488.9L835.7 489.6L837.6 490.3L839.4 491.0L841.3 491.7L843.2 492.3L845.1 493.0L847.0 493.6L848.9 494.2L850.8 494.9L852.7 495.5L854.6 496.1L856.5 496.8L858.4 497.4L860.3 498.0L862.2 498.6L864.1 499.2L866.1 499.8L868.0 500.4L869.9 500.9L871.8 501.5L873.7 502.1L875.6 502.7L877.6 503.2L879.5 503.8L881.4 504.4L883.3 504.9L885.2 505.5L887.2 506.0L889.1 506.6L891.0 507.1L893.0 507.6L894.9 508.1L896.9 508.6L898.8 509.0L900.7 509.5L902.7 509.9L904.6 510.3L906.6 510.8L908.6 511.3L910.5 511.7L912.5 512.1L914.5 512.6L916.4 513.0L918.4 513.4L920.4 513.7L922.3 514.1L924.3 514.4L926.3 514.6L928.3 514.9L930.3 515.0L932.2 515.2L934.2 515.3L936.2 515.4L938.2 515.5L940.2 515.6L942.2 515.6L944.2 515.7L946.2 515.7L948.2 515.7L950.3 515.7L952.3 515.7L954.3 515.7L956.3 515.7L958.3 515.7L960.3 515.7L962.3 515.7L964.3 515.7L966.3 515.7L968.3 515.7L970.3 515.7L972.2 515.9L974.2 516.2L976.2 516.5L978.1 517.0L980.1 517.5L982.1 518.0L984.0 518.5L986.0 518.9L987.9 519.4L989.8 519.9L991.8 520.4L993.7 520.9L995.6 521.4L997.6 522.0L999.5 522.5L1001.4 523.1L1003.4 523.6L1005.3 524.1L1007.2 524.6L1009.2 525.1L1011.1 525.6L1013.0 526.2L1015.0 526.7L1016.9 527.2L1018.8 527.7L1020.8 528.2L1022.7 528.7L1024.7 529.2L1026.6 529.7L1028.5 530.2L1030.5 530.6L1032.4 531.1L1034.4 531.5L1036.3 532.0L1038.3 532.4L1040.3 532.8L1042.2 533.2L1044.2 533.6L1046.1 534.0L1048.1 534.3L1050.1 534.7L1052.0 535.1L1054.0 535.4L1056.0 535.8L1058.0 536.1L1059.9 536.4L1061.9 536.7L1063.9 537.0L1065.9 537.3L1067.9 537.5L1069.8 537.8L1071.8 538.0L1073.8 538.2L1075.8 538.4L1077.8 538.7L1079.8 538.9L1081.8 539.1L1083.8 539.2L1085.8 539.4L1087.8 539.6L1089.8 539.8L1091.8 539.9L1093.8 540.0L1095.8 540.2L1097.8 540.3L1099.8 540.4L1101.8 540.5L1103.8 540.5L1105.8 540.6L1107.8 540.6L1109.8 540.7L1111.8 540.8L1113.8 540.8L1115.8 540.9L1117.8 541.0L1119.7 541.2L1121.7 541.4L1123.7 541.7L1125.7 542.0L1127.7 542.4L1129.6 542.8L1131.6 543.2L1133.6 543.6L1135.5 544.1L1137.4 544.5L1139.4 545.0L1141.3 545.5L1143.3 546.1L1145.2 546.6L1147.1 547.1L1149.1 547.6L1151.0 548.0L1153.0 548.5L1154.9 549.0L1156.9 549.4L1158.8 549.9L1160.8 550.3L1162.7 550.8L1164.7 551.2L1166.6 551.6L1168.6 552.1L1170.5 552.5L1172.5 552.9L1174.4 553.4L1176.4 553.8L1178.3 554.2L1180.3 554.6L1182.3 555.1L1184.2 555.5L1186.2 555.9L1188.1 556.3L1190.1 556.7L1192.0 557.1L1194.0 557.6L1196.0 558.0L1197.9 558.4L1199.9 558.8L1201.8 559.2L1203.8 559.6L1205.8 560.0L1207.7 560.4L1209.7 560.8L1211.6 561.2L1213.6 561.6L1215.6 562.0L1217.5 562.4L1219.5 562.8L1221.5 563.1L1223.4 563.5L1225.4 563.9L1227.4 564.3L1229.3 564.7L1231.3 565.1L1233.2 565.5L1235.2 565.8L1237.2 566.2L1239.1 566.6L1241.1 567.0L1243.1 567.4L1245.0 567.7L1247.0 568.1L1249.0 568.5L1250.9 568.9L1252.9 569.2L1254.9 569.6L1256.8 570.0L1258.8 570.3L1260.8 570.7L1262.7 571.1L1264.7 571.4L1266.7 571.8L1268.6 572.2L1270.6 572.5L1272.6 572.9L1274.5 573.3L1276.5 573.6L1278.5 574.0L1280.5 574.3L1282.4 574.7L1284.4 575.0L1286.4 575.4L1288.3 575.7L1290.3 576.1L1292.3 576.4L1294.2 576.7L1296.2 577.1L1298.2 577.4L1300.2 577.8L1302.1 578.1L1304.1 578.4L1306.1 578.7L1308.1 579.1L1310.0 579.4L1312.0 579.7L1314.0 580.0L1316.0 580.4L1317.9 580.7L1319.9 581.0L1321.9 581.3L1323.9 581.6L1325.8 582.0L1327.8 582.3L1329.8 582.6L1331.8 582.9L1333.7 583.2L1335.7 583.6L1337.7 583.9L1339.7 584.2L1341.6 584.5L1343.6 584.9L1345.6 585.2L1347.6 585.5L1349.5 585.8L1351.5 586.2L1353.5 586.5L1355.5 586.8L1357.4 587.1L1359.4 587.5L1361.4 587.8L1363.4 588.1L1365.3 588.4L1367.3 588.7L1369.3 589.1L1371.3 589.4L1373.2 589.7L1375.2 590.0L1377.2 590.4L1379.2 590.7L1381.1 591.0L1383.1 591.4L1385.1 591.7L1387.1 592.0L1389.0 592.3L1391.0 592.7L1393.0 593.0L1395.0 593.3L1396.9 593.7L1398.9 594.0L1400.9 594.3L1402.9 594.7L1404.8 595.0L1406.8 595.4L1408.8 595.7L1410.7 596.0L1412.7 596.4L1414.7 596.7L1416.7 597.0L1418.6 597.4L1420.6 597.7L1422.6 598.1L1424.5 598.4L1426.5 598.7L1428.5 599.1L1430.5 599.4L1432.4 599.8L1434.4 600.1L1436.4 600.4L1438.4 600.8L1440.3 601.1L1442.3 601.4L1444.3 601.8L1446.3 602.1L1448.2 602.4L1450.2 602.8L1452.2 603.1L1454.1 603.4L1456.1 603.8L1458.1 604.1L1460.1 604.4L1462.0 604.7L1464.0 605.1L1466.0 605.4L1468.0 605.7L1469.9 606.1L1471.9 606.4L1473.9 606.7L1475.9 607.0L1477.8 607.4L1479.8 607.7L1481.8 608.0L1483.8 608.3L1485.7 608.6L1487.7 608.9L1489.7 609.3L1491.7 609.6L1493.6 609.9L1495.6 610.2L1497.6 610.5L1499.6 610.8L1501.6 611.1L1503.5 611.4L1505.5 611.7L1507.5 612.0L1509.5 612.3L1511.5 612.6L1513.4 612.9L1515.4 613.2L1517.4 613.5L1519.4 613.8L1521.3 614.1L1523.3 614.4L1525.3 614.7L1527.3 615.0L1529.3 615.3L1531.2 615.5L1533.2 615.8L1535.2 616.1L1537.2 616.4L1539.2 616.7L1541.2 617.0L1543.1 617.2L1545.1 617.5L1547.1 617.8L1549.1 618.1L1551.1 618.3L1553.0 618.6L1555.0 618.9L1557.0 619.1L1559.0 619.4" fill="none" stroke="#231f1c" stroke-width="8.9" stroke-linejoin="round" stroke-linecap="butt"/>
<path d="M153.0 1139.9L155.0 1139.5L156.9 1139.0L158.9 1138.5L160.8 1137.9L162.7 1137.4L164.6 1136.7L166.5 1136.1L168.3 1135.3L170.2 1134.5L172.0 1133.7L173.8 1132.9L175.6 1132.0L177.4 1131.1L179.2 1130.2L180.9 1129.2L182.7 1128.2L184.4 1127.2L186.1 1126.1L187.8 1125.0L189.4 1123.9L191.0 1122.6L192.5 1121.4L194.0 1120.0L195.5 1118.7L196.9 1117.2L198.3 1115.8L199.7 1114.3L201.0 1112.8L202.3 1111.3L203.5 1109.7L204.7 1108.1L205.8 1106.5L206.9 1104.8L207.9 1103.0L208.9 1101.3L209.8 1099.5L210.7 1097.7L211.6 1095.9L212.4 1094.1L213.2 1092.3L213.9 1090.4L214.7 1088.5L215.4 1086.7L216.1 1084.8L216.9 1083.0L217.6 1081.1L218.3 1079.2L218.9 1077.3L219.5 1075.4L220.0 1073.5L220.5 1071.5L221.1 1069.6L221.6 1067.7L222.1 1065.7L222.6 1063.8L223.1 1061.9L223.6 1059.9L224.1 1058.0L224.5 1056.0L224.9 1054.1L225.4 1052.1L225.8 1050.2L226.2 1048.2L226.6 1046.2L227.0 1044.3L227.4 1042.3L227.8 1040.4L228.2 1038.4L228.6 1036.4L229.0 1034.5L229.4 1032.5L229.7 1030.5L230.0 1028.6L230.4 1026.6L230.7 1024.6L231.0 1022.6L231.3 1020.7L231.6 1018.7L231.9 1016.7L232.2 1014.7L232.5 1012.7L232.7 1010.7L233.0 1008.8L233.2 1006.8L233.5 1004.8L233.7 1002.8L233.9 1000.8L234.2 998.8L234.4 996.8L234.6 994.8L234.8 992.9L235.0 990.9L235.2 988.9L235.4 986.9L235.6 984.9L235.8 982.9L236.0 980.9L236.1 978.9L236.3 976.9L236.5 974.9L236.6 972.9L236.8 970.9L237.0 968.9L237.1 966.9L237.3 964.9L237.5 963.0L237.6 961.0L237.8 959.0L237.9 957.0L238.1 955.0L238.3 953.0L238.4 951.0L238.6 949.0L238.7 947.0L238.9 945.0L239.0 943.0L239.2 941.0L239.3 939.0L239.5 937.0L239.7 935.0L239.8 933.0L240.0 931.0L240.1 929.0L240.3 927.0L240.4 925.0L240.6 923.1L240.8 921.1L241.0 919.1L241.1 917.1L241.3 915.1L241.5 913.1L241.7 911.1L241.8 909.1L242.0 907.1L242.2 905.1L242.4 903.1L242.5 901.1L242.7 899.1L242.9 897.1L243.1 895.1L243.3 893.1L243.4 891.2L243.6 889.2L243.8 887.2L244.0 885.2L244.1 883.2L244.3 881.2L244.5 879.2L244.6 877.2L244.8 875.2L244.9 873.2L245.1 871.2L245.3 869.2L245.4 867.2L245.6 865.2L245.7 863.2L245.9 861.2L246.0 859.2L246.2 857.2L246.3 855.2L246.4 853.2L246.6 851.3L246.7 849.3L246.9 847.3L247.0 845.3L247.2 843.3L247.3 841.3L247.4 839.3L247.6 837.3L247.7 835.3L247.8 833.3L248.0 831.3L248.1 829.3L248.3 827.3L248.4 825.3L248.6 823.3L248.8 821.3L248.9 819.3L249.1 817.3L249.3 815.3L249.4 813.3L249.6 811.3L249.7 809.3L249.9 807.3L250.0 805.4L250.2 803.4L250.3 801.4L250.5 799.4L250.6 797.4L250.7 795.4L250.9 793.4L251.0 791.4L251.2 789.4L251.3 787.4L251.4 785.4L251.6 783.4L251.7 781.4L251.9 779.4L252.0 777.4L252.1 775.4L252.3 773.4L252.4 771.4L252.6 769.4L252.7 767.4L252.8 765.4L253.0 763.4L253.1 761.4L253.3 759.4L253.4 757.4L253.5 755.4L253.7 753.4L253.8 751.4L254.0 749.5L254.1 747.5L254.2 745.5L254.4 743.5L254.5 741.5L254.7 739.5L254.8 737.5L254.9 735.5L255.1 733.5L255.2 731.5L255.4 729.5L255.5 727.5L255.6 725.5L255.8 723.5L255.9 721.5L256.1 719.5L256.2 717.5L256.4 715.5L256.5 713.5L256.7 711.5L256.9 709.5L257.0 707.5L257.2 705.5L257.4 703.6L257.6 701.6L257.7 699.6L257.9 697.6L258.1 695.6L258.3 693.6L258.5 691.6L258.7 689.6L258.9 687.6L259.1 685.6L259.3 683.6L259.5 681.6L259.7 679.6L259.9 677.7L260.1 675.7L260.3 673.7L260.5 671.7L260.7 669.7L260.9 667.7L261.1 665.7L261.3 663.7L261.6 661.7L261.8 659.7L262.0 657.8L262.2 655.8L262.4 653.8L262.7 651.8L262.9 649.8L263.1 647.8L263.4 645.8L263.6 643.8L263.9 641.8L264.1 639.9L264.4 637.9L264.6 635.9L264.9 633.9L265.2 631.9L265.5 629.9L265.8 628.0L266.2 626.0L266.6 624.0L267.0 622.1L267.4 620.1L267.8 618.1L268.3 616.2L268.9 614.2L269.4 612.3L270.1 610.4L270.7 608.6L271.5 606.6L272.5 604.7L273.5 603.0L274.8 601.8L276.5 600.8L278.6 600.1L280.5 600.1L282.5 600.5L284.4 601.0L286.4 601.6L288.3 602.3L290.2 603.0L292.1 603.5L294.1 603.6L296.1 603.6L298.1 603.6L300.1 603.6L302.1 603.2L304.1 602.7L305.6 603.2L307.0 604.8L308.4 606.6L309.8 608.1L311.3 609.4L312.7 610.8L314.2 612.2L315.7 613.5L317.3 614.7L318.9 615.8L320.6 616.9L322.3 618.0L324.0 619.0L325.7 620.0L327.5 621.0L329.3 621.9L331.1 622.9L332.8 623.8L334.6 624.7L336.4 625.6L338.2 626.4L340.0 627.3L341.9 628.1L343.7 628.9L345.5 629.7L347.4 630.5L349.2 631.3L351.1 632.1L352.9 632.8L354.8 633.5L356.6 634.3L358.5 635.0L360.4 635.7L362.3 636.4L364.2 637.1L366.0 637.7L367.9 638.4L369.8 639.0L371.7 639.7L373.6 640.3L375.6 640.8L377.5 641.4L379.4 642.0L381.3 642.5L383.2 643.0L385.2 643.6L387.1 644.1L389.1 644.6L391.0 645.0L393.0 645.5L394.9 645.9L396.9 646.4L398.8 646.8L400.8 647.2L402.7 647.6L404.7 648.0L406.7 648.5L408.6 648.9L410.6 649.3L412.6 649.7L414.6 650.0L416.5 650.3L418.5 650.6L420.5 650.8L422.5 650.9L424.5 651.0L426.5 651.1L428.5 651.2L430.5 651.2L432.5 651.3L434.5 651.3L436.5 651.3L438.5 651.2L440.5 650.9L442.4 650.5L444.4 650.1L446.4 649.7L448.3 649.3L450.3 648.8L452.2 648.4L454.2 647.8L456.1 647.3L458.0 646.6L459.9 646.0L461.8 645.3L463.6 644.6L465.4 643.7L467.2 642.8L469.0 641.8L470.7 640.8L472.4 639.7L474.1 638.6L475.8 637.4L477.4 636.3L478.9 635.1L480.4 633.8L481.9 632.4L483.4 631.1L484.8 629.6L486.2 628.2L487.5 626.7L488.9 625.1L490.2 623.6L491.5 622.1L492.7 620.6L494.0 619.0L495.2 617.4L496.4 615.8L497.6 614.2L498.7 612.5L499.8 610.8L500.9 609.2L501.9 607.5L502.9 605.7L503.9 604.0L504.9 602.2L505.8 600.5L506.7 598.7L507.6 596.9L508.5 595.1L509.3 593.2L510.2 591.4L511.0 589.6L511.8 587.7L512.6 585.9L513.3 584.1L514.1 582.2L514.9 580.4L515.6 578.5L516.3 576.6L517.0 574.8L517.7 572.9L518.4 571.0L519.0 569.1L519.6 567.2L520.3 565.3L520.9 563.4L521.5 561.5L522.0 559.6L522.6 557.6L523.2 555.7L523.7 553.8L524.2 551.8L524.7 549.9L525.2 548.0L525.7 546.0L526.2 544.1L526.7 542.1L527.1 540.2L527.6 538.2L528.0 536.3L528.4 534.3L528.8 532.4L529.2 530.4L529.6 528.4L530.0 526.5L530.4 524.5L530.7 522.5L531.1 520.6L531.5 518.6L531.8 516.6L532.1 514.7L532.5 512.7L532.8 510.7L533.1 508.7L533.4 506.8L533.7 504.8L534.0 502.8L534.3 500.8L534.6 498.8L534.9 496.9L535.2 494.9L535.5 492.9L535.7 490.9L536.0 488.9L536.3 487.0L536.5 485.0L536.8 483.0L537.0 481.0L537.3 479.0L537.5 477.0L537.7 475.0L538.0 473.0L538.2 471.1L538.4 469.1L538.7 467.1L538.9 465.1L539.1 463.1L539.4 461.1L539.6 459.1L539.8 457.1L540.1 455.2L540.3 453.2L540.6 451.2L540.8 449.2L541.0 447.2L541.3 445.2L541.5 443.2L541.7 441.2L541.9 439.3L542.2 437.3L542.4 435.3L542.6 433.3L542.8 431.3L543.0 429.3L543.2 427.3L543.4 425.3L543.6 423.3L543.8 421.3L544.0 419.4L544.2 417.4L544.4 415.4L544.6 413.4L544.8 411.4L545.0 409.4L545.2 407.4L545.4 405.4L545.5 403.4L545.7 401.4L545.9 399.4L546.0 397.4L546.2 395.4L546.4 393.4L546.5 391.4L546.7 389.4L546.9 387.5L547.1 385.5L547.3 383.5L547.5 381.5L547.7 379.5L547.9 377.5L548.1 375.5L548.4 373.5L548.6 371.5L548.9 369.5L549.3 367.6L549.6 365.6L550.1 363.5L550.6 361.5L551.3 359.8L552.5 358.3L554.2 356.9L556.1 356.4" fill="none" stroke="#231f1c" stroke-width="9.6" stroke-linejoin="round" stroke-linecap="butt"/>
<g stroke="#3f4e9e" fill="none">
<line x1="278.1" y1="278.8" x2="278.1" y2="628.6" stroke-width="5.6" stroke-dasharray="13.4 11.4"/>
<line x1="548.3" y1="290.2" x2="548.3" y2="676" stroke-width="5.6" stroke-dasharray="13.4 11.5"/>
<line x1="316.5" y1="368.3" x2="518" y2="368.3" stroke-width="4.7" stroke-dasharray="9.1 8.2"/>
</g>
<path d="M281.0 368 L319 358.2 Q307.2 363.1 304.8 368 Q307.2 372.9 319 377.8 Z" fill="#3f4e9e"/>
<path d="M544.4 368 L506 358.2 Q517.8 363.1 520.2 368 Q517.8 372.9 506 377.8 Z" fill="#3f4e9e"/>
<g stroke="#231f1c" stroke-width="3.9" fill="none" stroke-linecap="butt">
<path d="M153.2 1174.75 V38.0 H1560.0"/>
<path d="M151.25 1172.8 H1561.95"/>
<line x1="153.2" y1="321.9" x2="177.8" y2="321.9"/>
<line x1="153.2" y1="605.5" x2="177.8" y2="605.5"/>
<line x1="153.2" y1="889.0" x2="177.8" y2="889.0"/>
<line x1="280.0" y1="1172.8" x2="280.0" y2="1147.2"/>
<line x1="601.0" y1="1172.8" x2="601.0" y2="1147.2"/>
<line x1="922.0" y1="1172.8" x2="922.0" y2="1147.2"/>
<line x1="1240.0" y1="1172.8" x2="1240.0" y2="1147.2"/>
</g>
<g stroke="#e62d2b" stroke-width="3.9" fill="none">
<line x1="1560.0" y1="39.45" x2="1560.0" y2="1170.85"/>
<line x1="1536" y1="265.0" x2="1560.0" y2="265.0"/>
<line x1="1536" y1="491.0" x2="1560.0" y2="491.0"/>
<line x1="1536" y1="719.3" x2="1560.0" y2="719.3"/>
<line x1="1536" y1="944.7" x2="1560.0" y2="944.7"/>
<line x1="1536" y1="1168.8" x2="1560.0" y2="1168.8"/>
</g>
<g opacity="0.999">
<text transform="translate(133.20 60.40) scale(1.0 1.02)" font-size="63" fill="#1a1a1a" stroke="#1a1a1a" stroke-width="0.5" stroke-linejoin="round" text-anchor="end">80</text>
<text transform="translate(133.20 344.00) scale(1.0 1.02)" font-size="63" fill="#1a1a1a" stroke="#1a1a1a" stroke-width="0.5" stroke-linejoin="round" text-anchor="end">60</text>
<text transform="translate(133.20 627.70) scale(1.0 1.02)" font-size="63" fill="#1a1a1a" stroke="#1a1a1a" stroke-width="0.5" stroke-linejoin="round" text-anchor="end">40</text>
<text transform="translate(133.20 911.20) scale(1.0 1.02)" font-size="63" fill="#1a1a1a" stroke="#1a1a1a" stroke-width="0.5" stroke-linejoin="round" text-anchor="end">20</text>
<text transform="translate(133.20 1195.80) scale(1.0 1.02)" font-size="63" fill="#1a1a1a" stroke="#1a1a1a" stroke-width="0.5" stroke-linejoin="round" text-anchor="end">0</text>
<text transform="translate(280.00 1239.00) scale(1.0 1.02)" font-size="63" fill="#1a1a1a" stroke="#1a1a1a" stroke-width="0.5" stroke-linejoin="round" text-anchor="middle">0</text>
<text transform="translate(599.70 1239.00) scale(1.0 1.02)" font-size="63" fill="#1a1a1a" stroke="#1a1a1a" stroke-width="0.5" stroke-linejoin="round" text-anchor="middle">50</text>
<text transform="translate(918.50 1239.00) scale(1.0 1.02)" font-size="63" fill="#1a1a1a" stroke="#1a1a1a" stroke-width="0.5" stroke-linejoin="round" text-anchor="middle">100</text>
<text transform="translate(1240.00 1239.00) scale(1.0 1.02)" font-size="63" fill="#1a1a1a" stroke="#1a1a1a" stroke-width="0.5" stroke-linejoin="round" text-anchor="middle">150</text>
<text transform="translate(1559.50 1239.00) scale(1.0 1.02)" font-size="63" fill="#1a1a1a" stroke="#1a1a1a" stroke-width="0.5" stroke-linejoin="round" text-anchor="middle">200</text>
<text transform="translate(1579.20 60.00) scale(1.0 1.02)" font-size="63" fill="#e62d2b" stroke="#e62d2b" stroke-width="0.5" stroke-linejoin="round" text-anchor="start">10</text>
<text transform="translate(1581.60 287.00) scale(1.0 1.02)" font-size="63" fill="#e62d2b" stroke="#e62d2b" stroke-width="0.5" stroke-linejoin="round" text-anchor="start">8</text>
<text transform="translate(1581.60 513.00) scale(1.0 1.02)" font-size="63" fill="#e62d2b" stroke="#e62d2b" stroke-width="0.5" stroke-linejoin="round" text-anchor="start">6</text>
<text transform="translate(1583.80 741.60) scale(1.0 1.02)" font-size="63" fill="#e62d2b" stroke="#e62d2b" stroke-width="0.5" stroke-linejoin="round" text-anchor="start">4</text>
<text transform="translate(1583.60 965.80) scale(1.0 1.02)" font-size="63" fill="#e62d2b" stroke="#e62d2b" stroke-width="0.5" stroke-linejoin="round" text-anchor="start">2</text>
<text transform="translate(1583.20 1195.60) scale(1.0 1.02)" font-size="63" fill="#e62d2b" stroke="#e62d2b" stroke-width="0.5" stroke-linejoin="round" text-anchor="start">0</text>
<text transform="translate(747.00 1302.90) scale(1.0145 1.0657)" font-size="62" fill="#1a1a1a" stroke="#1a1a1a" stroke-width="0.5" stroke-linejoin="round" text-anchor="start">Time/ms</text>
<text transform="translate(49.20 761.00) rotate(-90) scale(1.006 1.012)" font-size="62" fill="#1a1a1a" stroke="#1a1a1a" stroke-width="0.5" stroke-linejoin="round" text-anchor="start">Pressure/bar</text>
<text transform="translate(1678.70 834.80) rotate(-90) scale(1.0088 1.017)" font-size="62" fill="#e62d2b" stroke="#e62d2b" stroke-width="0.5" stroke-linejoin="round" text-anchor="start">Light intensity/V</text>
<text transform="translate(178.60 115.00) scale(1.01 1.064)" font-size="62" fill="#1a1a1a" stroke="#1a1a1a" stroke-width="0.5" stroke-linejoin="round" text-anchor="start"><tspan x="0">2% CH</tspan><tspan x="184.16" dy="20.3" font-size="34">4</tspan><tspan x="202.57" dy="-20.3">, 8% N</tspan><tspan x="375.54" dy="20.3" font-size="34">2</tspan><tspan x="393.86" dy="-20.3">O, Ar diluted</tspan></text>
<text transform="translate(285.30 274.80) scale(1.012 1.0)" font-size="45.5" fill="#3e4b98" stroke="#3e4b98" stroke-width="0.35" stroke-linejoin="round" text-anchor="start">IDT =41.8 ms</text>
<text transform="translate(288.60 500.30)" font-size="48.5" fill="#1a1a1a" stroke="#1a1a1a" stroke-width="0.35" stroke-linejoin="round" text-anchor="start"><tspan font-style="italic">p</tspan></text>
<text transform="translate(313.60 515.40) scale(1.12 1.0)" font-size="22.5" fill="#1a1a1a" stroke="#1a1a1a" stroke-width="0.2" stroke-linejoin="round" text-anchor="start">c</text>
<text transform="translate(323.30 500.30) scale(1.009 1.01)" font-size="45.5" fill="#1a1a1a" stroke="#1a1a1a" stroke-width="0.35" stroke-linejoin="round" text-anchor="start">=40.3 bar</text>
<text transform="translate(286.00 556.50) scale(1.0 1.01)" font-size="45.5" fill="#1a1a1a" stroke="#1a1a1a" stroke-width="0.35" stroke-linejoin="round" text-anchor="start"><tspan font-style="italic">T</tspan></text>
<text transform="translate(308.40 570.80) scale(1.12 1.0)" font-size="22.5" fill="#1a1a1a" stroke="#1a1a1a" stroke-width="0.2" stroke-linejoin="round" text-anchor="start">c</text>
<text transform="translate(319.30 556.50) scale(1.014 1.01)" font-size="45.5" fill="#1a1a1a" stroke="#1a1a1a" stroke-width="0.35" stroke-linejoin="round" text-anchor="start">=1223.3 K</text>
<text transform="translate(557.70 535.90) scale(1.0076 1.02)" font-size="62" fill="#1a1a1a" stroke="#1a1a1a" stroke-width="0.5" stroke-linejoin="round" text-anchor="start">max(d<tspan font-style="italic">p</tspan>/d<tspan font-style="italic">t</tspan>)</text>
<text transform="translate(609.00 713.70) scale(1.0085 1.04)" font-size="62" fill="#1a1a1a" stroke="#1a1a1a" stroke-width="0.5" stroke-linejoin="round" text-anchor="start">max(light intensity)</text>
</g>
<line x1="843.8" y1="881.1" x2="918.4" y2="881.1" stroke="#231f1c" stroke-width="8.6" stroke-linecap="round"/>
<line x1="843.8" y1="928.7" x2="918.4" y2="928.7" stroke="#e84246" stroke-width="8.6" stroke-linecap="round"/>
<g opacity="0.999">
<text transform="translate(944.80 894.90) scale(1.011 1.04)" font-size="62" fill="#1a1a1a" stroke="#1a1a1a" stroke-width="0.5" stroke-linejoin="round" text-anchor="start">Reactive pressure trace</text>
<text transform="translate(944.80 957.40) scale(1.006 1.04)" font-size="62" fill="#1a1a1a" stroke="#1a1a1a" stroke-width="0.5" stroke-linejoin="round" text-anchor="start">Reactive light intensity</text>
</g>
</svg>
</body></html>
